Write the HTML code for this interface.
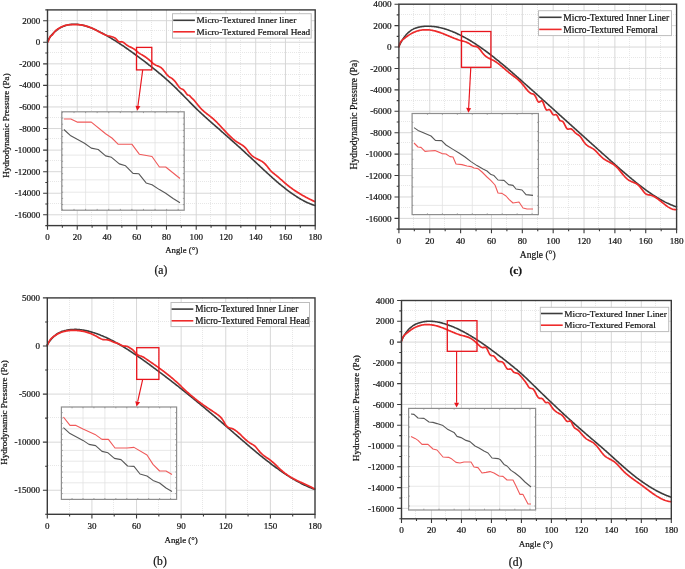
<!DOCTYPE html>
<html><head><meta charset="utf-8"><style>
html,body{margin:0;padding:0;background:#fff;}
body{width:685px;height:569px;overflow:hidden;font-family:"Liberation Serif",serif;}
svg{display:block;} text{fill:#141414;stroke:#141414;stroke-width:0.22px;}
</style></head><body>
<svg width="685" height="569" viewBox="0 0 685 569" font-family="'Liberation Serif', serif" style="will-change:transform;filter:blur(0.3px)">
<rect width="685" height="569" fill="#fff"/>
<line x1="61.50" y1="10" x2="61.50" y2="225.60" stroke="#e7e7e7" stroke-width="1" stroke-dasharray="1,1"/>
<line x1="91.50" y1="10" x2="91.50" y2="225.60" stroke="#e7e7e7" stroke-width="1" stroke-dasharray="1,1"/>
<line x1="121.50" y1="10" x2="121.50" y2="225.60" stroke="#e7e7e7" stroke-width="1" stroke-dasharray="1,1"/>
<line x1="151.50" y1="10" x2="151.50" y2="225.60" stroke="#e7e7e7" stroke-width="1" stroke-dasharray="1,1"/>
<line x1="180.50" y1="10" x2="180.50" y2="225.60" stroke="#e7e7e7" stroke-width="1" stroke-dasharray="1,1"/>
<line x1="210.50" y1="10" x2="210.50" y2="225.60" stroke="#e7e7e7" stroke-width="1" stroke-dasharray="1,1"/>
<line x1="240.50" y1="10" x2="240.50" y2="225.60" stroke="#e7e7e7" stroke-width="1" stroke-dasharray="1,1"/>
<line x1="270.50" y1="10" x2="270.50" y2="225.60" stroke="#e7e7e7" stroke-width="1" stroke-dasharray="1,1"/>
<line x1="299.50" y1="10" x2="299.50" y2="225.60" stroke="#e7e7e7" stroke-width="1" stroke-dasharray="1,1"/>
<line x1="48" y1="203.50" x2="315.20" y2="203.50" stroke="#e7e7e7" stroke-width="1" stroke-dasharray="1,1"/>
<line x1="48" y1="181.50" x2="315.20" y2="181.50" stroke="#e7e7e7" stroke-width="1" stroke-dasharray="1,1"/>
<line x1="48" y1="160.50" x2="315.20" y2="160.50" stroke="#e7e7e7" stroke-width="1" stroke-dasharray="1,1"/>
<line x1="48" y1="138.50" x2="315.20" y2="138.50" stroke="#e7e7e7" stroke-width="1" stroke-dasharray="1,1"/>
<line x1="48" y1="117.50" x2="315.20" y2="117.50" stroke="#e7e7e7" stroke-width="1" stroke-dasharray="1,1"/>
<line x1="48" y1="95.50" x2="315.20" y2="95.50" stroke="#e7e7e7" stroke-width="1" stroke-dasharray="1,1"/>
<line x1="48" y1="74.50" x2="315.20" y2="74.50" stroke="#e7e7e7" stroke-width="1" stroke-dasharray="1,1"/>
<line x1="48" y1="52.50" x2="315.20" y2="52.50" stroke="#e7e7e7" stroke-width="1" stroke-dasharray="1,1"/>
<line x1="48" y1="30.50" x2="315.20" y2="30.50" stroke="#e7e7e7" stroke-width="1" stroke-dasharray="1,1"/>
<line x1="77.24" y1="9.90" x2="77.24" y2="225.60" stroke="#d4d4d4" stroke-width="0.9"/>
<line x1="106.99" y1="9.90" x2="106.99" y2="225.60" stroke="#d4d4d4" stroke-width="0.9"/>
<line x1="136.73" y1="9.90" x2="136.73" y2="225.60" stroke="#d4d4d4" stroke-width="0.9"/>
<line x1="166.48" y1="9.90" x2="166.48" y2="225.60" stroke="#d4d4d4" stroke-width="0.9"/>
<line x1="196.22" y1="9.90" x2="196.22" y2="225.60" stroke="#d4d4d4" stroke-width="0.9"/>
<line x1="225.97" y1="9.90" x2="225.97" y2="225.60" stroke="#d4d4d4" stroke-width="0.9"/>
<line x1="255.71" y1="9.90" x2="255.71" y2="225.60" stroke="#d4d4d4" stroke-width="0.9"/>
<line x1="285.46" y1="9.90" x2="285.46" y2="225.60" stroke="#d4d4d4" stroke-width="0.9"/>
<line x1="47.50" y1="214.81" x2="315.20" y2="214.81" stroke="#d4d4d4" stroke-width="0.9"/>
<line x1="47.50" y1="193.25" x2="315.20" y2="193.25" stroke="#d4d4d4" stroke-width="0.9"/>
<line x1="47.50" y1="171.68" x2="315.20" y2="171.68" stroke="#d4d4d4" stroke-width="0.9"/>
<line x1="47.50" y1="150.11" x2="315.20" y2="150.11" stroke="#d4d4d4" stroke-width="0.9"/>
<line x1="47.50" y1="128.53" x2="315.20" y2="128.53" stroke="#d4d4d4" stroke-width="0.9"/>
<line x1="47.50" y1="106.96" x2="315.20" y2="106.96" stroke="#d4d4d4" stroke-width="0.9"/>
<line x1="47.50" y1="85.40" x2="315.20" y2="85.40" stroke="#d4d4d4" stroke-width="0.9"/>
<line x1="47.50" y1="63.83" x2="315.20" y2="63.83" stroke="#d4d4d4" stroke-width="0.9"/>
<line x1="47.50" y1="42.25" x2="315.20" y2="42.25" stroke="#d4d4d4" stroke-width="0.9"/>
<line x1="47.50" y1="20.69" x2="315.20" y2="20.69" stroke="#d4d4d4" stroke-width="0.9"/>
<path d="M47.50,40.98 C47.67,40.71 48.17,39.89 48.50,39.37 C48.83,38.85 49.17,38.35 49.50,37.87 C49.83,37.40 50.17,36.94 50.50,36.49 C50.83,36.05 51.17,35.63 51.50,35.22 C51.83,34.81 52.17,34.42 52.50,34.04 C52.83,33.67 53.17,33.31 53.50,32.97 C53.83,32.62 54.17,32.29 54.50,31.98 C54.83,31.66 55.17,31.36 55.50,31.08 C55.83,30.79 56.17,30.51 56.50,30.25 C56.83,29.99 57.17,29.74 57.50,29.50 C57.83,29.27 58.17,29.04 58.50,28.82 C58.83,28.61 59.17,28.40 59.50,28.21 C59.83,28.01 60.17,27.83 60.50,27.65 C60.83,27.47 61.17,27.30 61.50,27.14 C61.83,26.98 62.17,26.83 62.50,26.69 C62.83,26.54 63.17,26.40 63.50,26.27 C63.83,26.14 64.17,26.01 64.50,25.89 C64.83,25.78 65.17,25.67 65.50,25.56 C65.83,25.45 66.17,25.36 66.50,25.26 C66.83,25.17 67.17,25.09 67.50,25.01 C67.83,24.93 68.17,24.85 68.50,24.79 C68.83,24.72 69.17,24.66 69.50,24.60 C69.83,24.55 70.17,24.50 70.50,24.46 C70.83,24.41 71.17,24.37 71.50,24.34 C71.83,24.31 72.17,24.28 72.50,24.26 C72.83,24.24 73.17,24.23 73.50,24.22 C73.83,24.21 74.17,24.20 74.50,24.20 C74.83,24.20 75.17,24.21 75.50,24.22 C75.83,24.23 76.17,24.25 76.50,24.27 C76.83,24.29 77.17,24.32 77.50,24.35 C77.83,24.38 78.17,24.41 78.50,24.45 C78.83,24.49 79.17,24.54 79.50,24.59 C79.83,24.63 80.17,24.69 80.50,24.75 C80.83,24.80 81.17,24.87 81.50,24.93 C81.83,25.00 82.17,25.07 82.50,25.14 C82.83,25.22 83.17,25.30 83.50,25.38 C83.83,25.46 84.17,25.55 84.50,25.64 C84.83,25.73 85.17,25.82 85.50,25.92 C85.83,26.02 86.17,26.12 86.50,26.22 C86.83,26.33 87.17,26.44 87.50,26.55 C87.83,26.66 88.17,26.77 88.50,26.89 C88.83,27.01 89.17,27.13 89.50,27.26 C89.83,27.38 90.17,27.51 90.50,27.64 C90.83,27.77 91.17,27.90 91.50,28.03 C91.83,28.17 92.17,28.31 92.50,28.45 C92.83,28.59 93.17,28.73 93.50,28.88 C93.83,29.02 94.17,29.17 94.50,29.32 C94.83,29.47 95.17,29.63 95.50,29.78 C95.83,29.94 96.17,30.09 96.50,30.25 C96.83,30.41 97.17,30.57 97.50,30.74 C97.83,30.90 98.17,31.06 98.50,31.23 C98.83,31.40 99.17,31.56 99.50,31.73 C99.83,31.90 100.17,32.07 100.50,32.25 C100.83,32.42 101.17,32.59 101.50,32.77 C101.83,32.95 102.17,33.12 102.50,33.30 C102.83,33.48 103.17,33.66 103.50,33.84 C103.83,34.02 104.17,34.20 104.50,34.39 C104.83,34.57 105.17,34.76 105.50,34.95 C105.83,35.13 106.17,35.32 106.50,35.51 C106.83,35.70 107.17,35.89 107.50,36.08 C107.83,36.28 108.17,36.47 108.50,36.66 C108.83,36.86 109.17,37.05 109.50,37.25 C109.83,37.45 110.17,37.65 110.50,37.85 C110.83,38.05 111.17,38.25 111.50,38.45 C111.83,38.65 112.17,38.86 112.50,39.06 C112.83,39.27 113.17,39.47 113.50,39.68 C113.83,39.89 114.17,40.09 114.50,40.30 C114.83,40.51 115.17,40.72 115.50,40.93 C115.83,41.15 116.17,41.36 116.50,41.57 C116.83,41.79 117.17,42.00 117.50,42.22 C117.83,42.43 118.17,42.65 118.50,42.87 C118.83,43.08 119.17,43.30 119.50,43.52 C119.83,43.74 120.17,43.96 120.50,44.19 C120.83,44.41 121.17,44.63 121.50,44.85 C121.83,45.08 122.17,45.30 122.50,45.53 C122.83,45.75 123.17,45.98 123.50,46.21 C123.83,46.43 124.17,46.66 124.50,46.89 C124.83,47.12 125.17,47.35 125.50,47.58 C125.83,47.81 126.17,48.04 126.50,48.28 C126.83,48.51 127.17,48.74 127.50,48.98 C127.83,49.21 128.17,49.44 128.50,49.68 C128.83,49.92 129.17,50.15 129.50,50.39 C129.83,50.63 130.17,50.86 130.50,51.10 C130.83,51.34 131.17,51.58 131.50,51.82 C131.83,52.06 132.17,52.30 132.50,52.54 C132.83,52.78 133.17,53.03 133.50,53.27 C133.83,53.51 134.17,53.75 134.50,54.00 C134.83,54.24 135.17,54.49 135.50,54.73 C135.83,54.98 136.17,55.22 136.50,55.47 C136.83,55.71 137.17,55.96 137.50,56.21 C137.83,56.45 138.17,56.70 138.50,56.95 C138.83,57.20 139.17,57.45 139.50,57.70 C139.83,57.95 140.17,58.19 140.50,58.44 C140.83,58.69 141.17,58.95 141.50,59.20 C141.83,59.45 142.17,59.70 142.50,59.95 C142.83,60.20 143.17,60.45 143.50,60.71 C143.83,60.96 144.17,61.21 144.50,61.47 C144.83,61.72 145.17,61.97 145.50,62.23 C145.83,62.48 146.17,62.74 146.50,62.99 C146.83,63.25 147.17,63.51 147.50,63.76 C147.83,64.02 148.17,64.28 148.50,64.54 C148.83,64.79 149.17,65.05 149.50,65.31 C149.83,65.57 150.17,65.83 150.50,66.09 C150.83,66.35 151.17,66.61 151.50,66.88 C151.83,67.14 152.17,67.40 152.50,67.67 C152.83,67.93 153.17,68.20 153.50,68.46 C153.83,68.73 154.17,68.99 154.50,69.26 C154.83,69.53 155.17,69.80 155.50,70.07 C155.83,70.34 156.17,70.61 156.50,70.88 C156.83,71.15 157.17,71.42 157.50,71.69 C157.83,71.97 158.17,72.24 158.50,72.52 C158.83,72.79 159.17,73.07 159.50,73.35 C159.83,73.62 160.17,73.90 160.50,74.18 C160.83,74.46 161.17,74.74 161.50,75.03 C161.83,75.31 162.17,75.59 162.50,75.88 C162.83,76.16 163.17,76.45 163.50,76.73 C163.83,77.02 164.17,77.31 164.50,77.60 C164.83,77.89 165.17,78.18 165.50,78.47 C165.83,78.77 166.17,79.06 166.50,79.35 C166.83,79.65 167.17,79.95 167.50,80.24 C167.83,80.54 168.17,80.84 168.50,81.14 C168.83,81.44 169.17,81.75 169.50,82.05 C169.83,82.35 170.17,82.66 170.50,82.97 C170.83,83.27 171.17,83.58 171.50,83.89 C171.83,84.20 172.17,84.51 172.50,84.83 C172.83,85.14 173.17,85.46 173.50,85.77 C173.83,86.09 174.17,86.41 174.50,86.73 C174.83,87.05 175.17,87.37 175.50,87.69 C175.83,88.02 176.17,88.34 176.50,88.67 C176.83,89.00 177.17,89.32 177.50,89.65 C177.83,89.98 178.17,90.31 178.50,90.65 C178.83,90.98 179.17,91.31 179.50,91.65 C179.83,91.98 180.17,92.31 180.50,92.65 C180.83,92.99 181.17,93.32 181.50,93.66 C181.83,94.00 182.17,94.34 182.50,94.67 C182.83,95.01 183.17,95.35 183.50,95.69 C183.83,96.03 184.17,96.37 184.50,96.71 C184.83,97.05 185.17,97.39 185.50,97.73 C185.83,98.07 186.17,98.41 186.50,98.75 C186.83,99.09 187.17,99.44 187.50,99.78 C187.83,100.12 188.17,100.46 188.50,100.80 C188.83,101.14 189.17,101.48 189.50,101.81 C189.83,102.15 190.17,102.49 190.50,102.83 C190.83,103.17 191.17,103.50 191.50,103.84 C191.83,104.18 192.17,104.51 192.50,104.85 C192.83,105.18 193.17,105.52 193.50,105.85 C193.83,106.18 194.17,106.51 194.50,106.84 C194.83,107.17 195.17,107.50 195.50,107.83 C195.83,108.16 196.17,108.48 196.50,108.81 C196.83,109.13 197.17,109.45 197.50,109.78 C197.83,110.10 198.17,110.42 198.50,110.73 C198.83,111.05 199.17,111.37 199.50,111.68 C199.83,112.00 200.17,112.31 200.50,112.62 C200.83,112.94 201.17,113.25 201.50,113.56 C201.83,113.87 202.17,114.17 202.50,114.48 C202.83,114.79 203.17,115.09 203.50,115.40 C203.83,115.70 204.17,116.01 204.50,116.31 C204.83,116.61 205.17,116.92 205.50,117.22 C205.83,117.52 206.17,117.82 206.50,118.12 C206.83,118.41 207.17,118.71 207.50,119.01 C207.83,119.31 208.17,119.61 208.50,119.90 C208.83,120.20 209.17,120.49 209.50,120.79 C209.83,121.08 210.17,121.38 210.50,121.67 C210.83,121.97 211.17,122.26 211.50,122.55 C211.83,122.85 212.17,123.14 212.50,123.43 C212.83,123.73 213.17,124.02 213.50,124.31 C213.83,124.60 214.17,124.90 214.50,125.19 C214.83,125.48 215.17,125.77 215.50,126.06 C215.83,126.36 216.17,126.65 216.50,126.94 C216.83,127.23 217.17,127.53 217.50,127.82 C217.83,128.11 218.17,128.40 218.50,128.70 C218.83,128.99 219.17,129.28 219.50,129.58 C219.83,129.87 220.17,130.16 220.50,130.45 C220.83,130.75 221.17,131.04 221.50,131.33 C221.83,131.63 222.17,131.92 222.50,132.22 C222.83,132.51 223.17,132.80 223.50,133.10 C223.83,133.39 224.17,133.69 224.50,133.98 C224.83,134.27 225.17,134.57 225.50,134.86 C225.83,135.16 226.17,135.45 226.50,135.75 C226.83,136.04 227.17,136.34 227.50,136.63 C227.83,136.93 228.17,137.22 228.50,137.52 C228.83,137.82 229.17,138.11 229.50,138.41 C229.83,138.70 230.17,139.00 230.50,139.30 C230.83,139.59 231.17,139.89 231.50,140.19 C231.83,140.49 232.17,140.78 232.50,141.08 C232.83,141.38 233.17,141.68 233.50,141.97 C233.83,142.27 234.17,142.57 234.50,142.87 C234.83,143.17 235.17,143.47 235.50,143.77 C235.83,144.07 236.17,144.36 236.50,144.66 C236.83,144.96 237.17,145.26 237.50,145.56 C237.83,145.86 238.17,146.17 238.50,146.47 C238.83,146.77 239.17,147.07 239.50,147.37 C239.83,147.67 240.17,147.97 240.50,148.28 C240.83,148.58 241.17,148.88 241.50,149.18 C241.83,149.49 242.17,149.79 242.50,150.09 C242.83,150.40 243.17,150.70 243.50,151.00 C243.83,151.31 244.17,151.61 244.50,151.92 C244.83,152.22 245.17,152.53 245.50,152.83 C245.83,153.14 246.17,153.45 246.50,153.75 C246.83,154.06 247.17,154.37 247.50,154.67 C247.83,154.98 248.17,155.29 248.50,155.60 C248.83,155.91 249.17,156.21 249.50,156.52 C249.83,156.83 250.17,157.14 250.50,157.45 C250.83,157.76 251.17,158.07 251.50,158.38 C251.83,158.69 252.17,159.00 252.50,159.31 C252.83,159.62 253.17,159.94 253.50,160.25 C253.83,160.56 254.17,160.87 254.50,161.18 C254.83,161.49 255.17,161.81 255.50,162.12 C255.83,162.43 256.17,162.74 256.50,163.06 C256.83,163.37 257.17,163.68 257.50,163.99 C257.83,164.30 258.17,164.62 258.50,164.93 C258.83,165.24 259.17,165.55 259.50,165.86 C259.83,166.18 260.17,166.49 260.50,166.80 C260.83,167.11 261.17,167.42 261.50,167.73 C261.83,168.04 262.17,168.35 262.50,168.66 C262.83,168.98 263.17,169.28 263.50,169.59 C263.83,169.90 264.17,170.21 264.50,170.52 C264.83,170.83 265.17,171.14 265.50,171.45 C265.83,171.75 266.17,172.06 266.50,172.37 C266.83,172.67 267.17,172.98 267.50,173.28 C267.83,173.59 268.17,173.89 268.50,174.20 C268.83,174.50 269.17,174.80 269.50,175.11 C269.83,175.41 270.17,175.71 270.50,176.01 C270.83,176.31 271.17,176.61 271.50,176.91 C271.83,177.21 272.17,177.50 272.50,177.80 C272.83,178.10 273.17,178.39 273.50,178.69 C273.83,178.98 274.17,179.28 274.50,179.57 C274.83,179.86 275.17,180.15 275.50,180.44 C275.83,180.73 276.17,181.02 276.50,181.31 C276.83,181.60 277.17,181.89 277.50,182.17 C277.83,182.46 278.17,182.74 278.50,183.02 C278.83,183.31 279.17,183.59 279.50,183.87 C279.83,184.15 280.17,184.43 280.50,184.70 C280.83,184.98 281.17,185.26 281.50,185.53 C281.83,185.80 282.17,186.08 282.50,186.35 C282.83,186.62 283.17,186.89 283.50,187.15 C283.83,187.42 284.17,187.69 284.50,187.95 C284.83,188.22 285.17,188.48 285.50,188.74 C285.83,189.00 286.17,189.26 286.50,189.52 C286.83,189.77 287.17,190.03 287.50,190.28 C287.83,190.53 288.17,190.78 288.50,191.03 C288.83,191.28 289.17,191.53 289.50,191.78 C289.83,192.02 290.17,192.26 290.50,192.50 C290.83,192.75 291.17,192.98 291.50,193.22 C291.83,193.46 292.17,193.69 292.50,193.92 C292.83,194.16 293.17,194.39 293.50,194.61 C293.83,194.84 294.17,195.07 294.50,195.29 C294.83,195.51 295.17,195.74 295.50,195.95 C295.83,196.17 296.17,196.39 296.50,196.60 C296.83,196.81 297.17,197.03 297.50,197.23 C297.83,197.44 298.17,197.65 298.50,197.85 C298.83,198.05 299.17,198.25 299.50,198.45 C299.83,198.65 300.17,198.85 300.50,199.04 C300.83,199.23 301.17,199.42 301.50,199.61 C301.83,199.79 302.17,199.98 302.50,200.16 C302.83,200.34 303.17,200.52 303.50,200.69 C303.83,200.87 304.17,201.04 304.50,201.21 C304.83,201.38 305.17,201.55 305.50,201.71 C305.83,201.87 306.17,202.03 306.50,202.19 C306.83,202.35 307.17,202.50 307.50,202.65 C307.83,202.81 308.17,202.95 308.50,203.10 C308.83,203.24 309.17,203.38 309.50,203.52 C309.83,203.66 310.17,203.79 310.50,203.93 C310.83,204.06 311.17,204.18 311.50,204.31 C311.83,204.43 312.17,204.56 312.50,204.67 C312.83,204.79 313.17,204.90 313.50,205.01 C313.83,205.13 314.25,205.26 314.50,205.34 C314.75,205.41 314.92,205.46 315.00,205.49" fill="none" stroke="#3c3c3c" stroke-width="1.6" stroke-linejoin="round" stroke-linecap="round"/>
<path d="M47.90,41.98 L48.70,40.26 L49.50,38.01 L50.30,36.24 L51.10,35.58 L51.90,35.30 L52.70,34.49 L53.50,33.28 L54.30,32.15 L55.10,31.25 L55.90,30.51 L56.70,29.84 L57.50,29.23 L58.30,28.66 L59.10,28.15 L59.90,27.67 L60.70,27.24 L61.50,26.85 L62.30,26.50 L63.10,26.19 L63.90,25.91 L64.70,25.66 L65.50,25.44 L66.30,25.25 L67.10,25.09 L67.90,24.96 L68.70,24.84 L69.50,24.75 L70.30,24.68 L71.10,24.62 L71.90,24.58 L72.70,24.55 L73.50,24.53 L74.30,24.52 L75.10,24.53 L75.90,24.55 L76.70,24.58 L77.50,24.63 L78.30,24.68 L79.10,24.76 L79.90,24.84 L80.70,24.95 L81.50,25.06 L82.30,25.20 L83.10,25.35 L83.90,25.51 L84.70,25.69 L85.50,25.89 L86.30,26.10 L87.10,26.34 L87.90,26.59 L88.70,26.86 L89.50,27.14 L90.30,27.45 L91.10,27.77 L91.90,28.12 L92.70,28.48 L93.50,28.86 L94.30,29.26 L95.10,29.68 L95.90,30.10 L96.70,30.53 L97.50,30.97 L98.30,31.41 L99.10,31.84 L99.90,32.28 L100.70,32.70 L101.50,33.12 L102.30,33.53 L103.10,33.92 L103.90,34.29 L104.70,34.64 L105.50,34.97 L106.30,35.28 L107.10,35.55 L107.90,35.79 L108.70,36.01 L109.50,36.20 L110.30,36.38 L111.10,36.58 L111.90,36.79 L112.70,37.03 L113.50,37.32 L114.30,37.67 L115.10,38.10 L115.90,38.74 L116.70,39.65 L117.50,40.62 L118.30,41.38 L119.10,41.76 L119.90,41.85 L120.70,41.82 L121.50,41.80 L122.30,41.94 L123.10,42.29 L123.90,42.79 L124.70,43.40 L125.50,44.06 L126.30,44.71 L127.10,45.30 L127.90,45.80 L128.70,46.24 L129.50,46.64 L130.30,47.00 L131.10,47.37 L131.90,47.75 L132.70,48.16 L133.50,48.63 L134.30,49.18 L135.10,49.79 L135.90,50.45 L136.70,51.13 L137.50,51.81 L138.30,52.48 L139.10,53.09 L139.90,53.65 L140.70,54.13 L141.50,54.57 L142.30,55.00 L143.10,55.46 L143.90,55.94 L144.70,56.46 L145.50,57.01 L146.30,57.59 L147.10,58.20 L147.90,58.84 L148.70,59.51 L149.50,60.21 L150.30,60.94 L151.10,61.68 L151.90,62.41 L152.70,63.12 L153.50,63.77 L154.30,64.34 L155.10,64.82 L155.90,65.21 L156.70,65.55 L157.50,65.85 L158.30,66.16 L159.10,66.50 L159.90,66.90 L160.70,67.39 L161.50,68.00 L162.30,68.76 L163.10,69.67 L163.90,70.68 L164.70,71.76 L165.50,72.84 L166.30,73.89 L167.10,74.87 L167.90,75.71 L168.70,76.39 L169.50,76.93 L170.30,77.40 L171.10,77.87 L171.90,78.40 L172.70,79.03 L173.50,79.77 L174.30,80.61 L175.10,81.55 L175.90,82.57 L176.70,83.67 L177.50,84.85 L178.30,86.05 L179.10,87.11 L179.90,87.88 L180.70,88.41 L181.50,88.80 L182.30,89.16 L183.10,89.61 L183.90,90.26 L184.70,91.20 L185.50,92.33 L186.30,93.47 L187.10,94.45 L187.90,95.07 L188.70,95.24 L189.50,95.58 L190.30,96.36 L191.10,97.29 L191.90,98.12 L192.70,98.86 L193.50,99.62 L194.30,100.51 L195.10,101.46 L195.90,102.45 L196.70,103.45 L197.50,104.45 L198.30,105.44 L199.10,106.40 L199.90,107.34 L200.70,108.23 L201.50,109.07 L202.30,109.86 L203.10,110.61 L203.90,111.33 L204.70,112.02 L205.50,112.68 L206.30,113.33 L207.10,113.96 L207.90,114.58 L208.70,115.20 L209.50,115.82 L210.30,116.44 L211.10,117.08 L211.90,117.74 L212.70,118.42 L213.50,119.12 L214.30,119.86 L215.10,120.61 L215.90,121.39 L216.70,122.18 L217.50,123.00 L218.30,123.82 L219.10,124.66 L219.90,125.51 L220.70,126.37 L221.50,127.23 L222.30,128.10 L223.10,128.97 L223.90,129.83 L224.70,130.70 L225.50,131.56 L226.30,132.41 L227.10,133.25 L227.90,134.08 L228.70,134.89 L229.50,135.69 L230.30,136.47 L231.10,137.23 L231.90,137.96 L232.70,138.67 L233.50,139.35 L234.30,140.00 L235.10,140.62 L235.90,141.21 L236.70,141.76 L237.50,142.27 L238.30,142.75 L239.10,143.22 L239.90,143.68 L240.70,144.15 L241.50,144.64 L242.30,145.17 L243.10,145.74 L243.90,146.38 L244.70,147.09 L245.50,147.89 L246.30,148.78 L247.10,149.79 L247.90,150.88 L248.70,151.98 L249.50,153.01 L250.30,153.95 L251.10,154.78 L251.90,155.53 L252.70,156.20 L253.50,156.81 L254.30,157.35 L255.10,157.84 L255.90,158.30 L256.70,158.72 L257.50,159.12 L258.30,159.51 L259.10,159.89 L259.90,160.28 L260.70,160.69 L261.50,161.13 L262.30,161.62 L263.10,162.18 L263.90,162.81 L264.70,163.55 L265.50,164.40 L266.30,165.33 L267.10,166.33 L267.90,167.35 L268.70,168.36 L269.50,169.33 L270.30,170.23 L271.10,171.07 L271.90,171.84 L272.70,172.57 L273.50,173.25 L274.30,173.91 L275.10,174.55 L275.90,175.19 L276.70,175.83 L277.50,176.49 L278.30,177.16 L279.10,177.86 L279.90,178.56 L280.70,179.27 L281.50,179.99 L282.30,180.71 L283.10,181.42 L283.90,182.13 L284.70,182.82 L285.50,183.51 L286.30,184.17 L287.10,184.83 L287.90,185.47 L288.70,186.10 L289.50,186.72 L290.30,187.32 L291.10,187.92 L291.90,188.50 L292.70,189.07 L293.50,189.64 L294.30,190.19 L295.10,190.73 L295.90,191.26 L296.70,191.78 L297.50,192.29 L298.30,192.79 L299.10,193.29 L299.90,193.77 L300.70,194.25 L301.50,194.72 L302.30,195.18 L303.10,195.64 L303.90,196.08 L304.70,196.52 L305.50,196.96 L306.30,197.39 L307.10,197.81 L307.90,198.23 L308.70,198.64 L309.50,199.04 L310.30,199.45 L311.10,199.84 L311.90,200.24 L312.70,200.62 L313.50,201.01 L314.30,201.39 L314.60,201.53" fill="none" stroke="#ee2b2b" stroke-width="1.7" stroke-linejoin="round" stroke-linecap="round"/>
<rect x="136.50" y="47.40" width="15.30" height="22.50" fill="none" stroke="#e8141c" stroke-width="1.3"/>
<line x1="142.70" y1="69.90" x2="137.93" y2="106.04" stroke="#e8141c" stroke-width="1.15"/>
<path d="M137.30,110.80 L135.45,105.71 L140.41,106.37 Z" fill="#e8141c"/>
<rect x="61.80" y="111.80" width="122.40" height="98.40" fill="#fff"/>
<line x1="85.60" y1="111.80" x2="85.60" y2="210.20" stroke="#e2e2e2" stroke-width="0.8"/>
<line x1="108.75" y1="111.80" x2="108.75" y2="210.20" stroke="#e2e2e2" stroke-width="0.8"/>
<line x1="131.90" y1="111.80" x2="131.90" y2="210.20" stroke="#e2e2e2" stroke-width="0.8"/>
<line x1="155.05" y1="111.80" x2="155.05" y2="210.20" stroke="#e2e2e2" stroke-width="0.8"/>
<line x1="178.20" y1="111.80" x2="178.20" y2="210.20" stroke="#e2e2e2" stroke-width="0.8"/>
<line x1="61.80" y1="118.00" x2="184.20" y2="118.00" stroke="#e2e2e2" stroke-width="0.8"/>
<line x1="61.80" y1="130.37" x2="184.20" y2="130.37" stroke="#e2e2e2" stroke-width="0.8"/>
<line x1="61.80" y1="142.74" x2="184.20" y2="142.74" stroke="#e2e2e2" stroke-width="0.8"/>
<line x1="61.80" y1="155.11" x2="184.20" y2="155.11" stroke="#e2e2e2" stroke-width="0.8"/>
<line x1="61.80" y1="167.48" x2="184.20" y2="167.48" stroke="#e2e2e2" stroke-width="0.8"/>
<line x1="61.80" y1="179.85" x2="184.20" y2="179.85" stroke="#e2e2e2" stroke-width="0.8"/>
<line x1="61.80" y1="192.22" x2="184.20" y2="192.22" stroke="#e2e2e2" stroke-width="0.8"/>
<line x1="61.80" y1="204.59" x2="184.20" y2="204.59" stroke="#e2e2e2" stroke-width="0.8"/>
<path d="M63.90,129.50 L70.80,135.80 L84.50,143.20 L91.30,148.10 L98.20,149.50 L105.60,155.90 L111.50,157.30 L119.30,163.90 L125.60,165.80 L133.00,173.40 L138.90,173.80 L146.10,182.90 L152.00,184.80 L159.40,189.60 L165.70,193.20 L173.10,198.50 L180.00,202.70" fill="none" stroke="#585858" stroke-width="1.1" stroke-linejoin="round"/>
<path d="M63.90,119.00 L70.80,119.00 L77.10,122.10 L91.30,122.10 L105.60,133.70 L111.90,138.00 L118.30,144.30 L132.00,144.30 L139.30,154.20 L152.00,156.50 L159.40,167.00 L165.70,167.00 L180.00,178.50" fill="none" stroke="#f05a5a" stroke-width="1.1" stroke-linejoin="round"/>
<path d="M62.45,111.80 v1.3 M62.45,210.20 v-1.3 M74.02,111.80 v1.3 M74.02,210.20 v-1.3 M85.60,111.80 v1.3 M85.60,210.20 v-1.3 M97.17,111.80 v1.3 M97.17,210.20 v-1.3 M108.75,111.80 v1.3 M108.75,210.20 v-1.3 M120.33,111.80 v1.3 M120.33,210.20 v-1.3 M131.90,111.80 v1.3 M131.90,210.20 v-1.3 M143.48,111.80 v1.3 M143.48,210.20 v-1.3 M155.05,111.80 v1.3 M155.05,210.20 v-1.3 M166.62,111.80 v1.3 M166.62,210.20 v-1.3 M178.20,111.80 v1.3 M178.20,210.20 v-1.3 M61.80,118.00 h1.3 M184.20,118.00 h-1.3 M61.80,124.19 h1.3 M184.20,124.19 h-1.3 M61.80,130.37 h1.3 M184.20,130.37 h-1.3 M61.80,136.56 h1.3 M184.20,136.56 h-1.3 M61.80,142.74 h1.3 M184.20,142.74 h-1.3 M61.80,148.93 h1.3 M184.20,148.93 h-1.3 M61.80,155.11 h1.3 M184.20,155.11 h-1.3 M61.80,161.30 h1.3 M184.20,161.30 h-1.3 M61.80,167.48 h1.3 M184.20,167.48 h-1.3 M61.80,173.67 h1.3 M184.20,173.67 h-1.3 M61.80,179.85 h1.3 M184.20,179.85 h-1.3 M61.80,186.04 h1.3 M184.20,186.04 h-1.3 M61.80,192.22 h1.3 M184.20,192.22 h-1.3 M61.80,198.41 h1.3 M184.20,198.41 h-1.3 M61.80,204.59 h1.3 M184.20,204.59 h-1.3" stroke="#777" stroke-width="0.7" fill="none"/>
<rect x="61.80" y="111.80" width="122.40" height="98.40" fill="none" stroke="#8e8e8e" stroke-width="1.2"/>
<rect x="172.50" y="13.70" width="138.70" height="24.40" fill="#fff" stroke="#bdbdbd" stroke-width="1"/>
<line x1="173.20" y1="20.30" x2="194.90" y2="20.30" stroke="#3c3c3c" stroke-width="1.6"/>
<line x1="173.20" y1="31.80" x2="194.90" y2="31.80" stroke="#ee2b2b" stroke-width="1.6"/>
<text x="196.60" y="23.20" font-size="9.28" fill="#222">Micro-Textured Inner liner</text>
<text x="196.60" y="34.70" font-size="9.28" fill="#222">Micro-Textured Femoral Head</text>
<rect x="47.50" y="9.90" width="267.70" height="215.70" fill="none" stroke="#3a3a3a" stroke-width="1.4"/>
<path d="M47.50,225.60 v4.2 M77.24,225.60 v4.2 M106.99,225.60 v4.2 M136.73,225.60 v4.2 M166.48,225.60 v4.2 M196.22,225.60 v4.2 M225.97,225.60 v4.2 M255.71,225.60 v4.2 M285.46,225.60 v4.2 M315.20,225.60 v4.2 M62.37,225.60 v2.2 M92.12,225.60 v2.2 M121.86,225.60 v2.2 M151.61,225.60 v2.2 M181.35,225.60 v2.2 M211.09,225.60 v2.2 M240.84,225.60 v2.2 M270.58,225.60 v2.2 M300.33,225.60 v2.2 M47.50,214.81 h-4.4 M47.50,193.25 h-4.4 M47.50,171.68 h-4.4 M47.50,150.11 h-4.4 M47.50,128.53 h-4.4 M47.50,106.96 h-4.4 M47.50,85.40 h-4.4 M47.50,63.83 h-4.4 M47.50,42.25 h-4.4 M47.50,20.69 h-4.4 M47.50,204.03 h-2.2 M47.50,182.46 h-2.2 M47.50,160.89 h-2.2 M47.50,139.32 h-2.2 M47.50,117.75 h-2.2 M47.50,96.18 h-2.2 M47.50,74.61 h-2.2 M47.50,53.04 h-2.2 M47.50,31.47 h-2.2 M47.50,225.60 h-2.2 M47.50,9.90 h-2.2" stroke="#3a3a3a" stroke-width="1.1" fill="none"/>
<text x="47.50" y="239.60" font-size="9.0" text-anchor="middle" fill="#222">0</text>
<text x="77.24" y="239.60" font-size="9.0" text-anchor="middle" fill="#222">20</text>
<text x="106.99" y="239.60" font-size="9.0" text-anchor="middle" fill="#222">40</text>
<text x="136.73" y="239.60" font-size="9.0" text-anchor="middle" fill="#222">60</text>
<text x="166.48" y="239.60" font-size="9.0" text-anchor="middle" fill="#222">80</text>
<text x="196.22" y="239.60" font-size="9.0" text-anchor="middle" fill="#222">100</text>
<text x="225.97" y="239.60" font-size="9.0" text-anchor="middle" fill="#222">120</text>
<text x="255.71" y="239.60" font-size="9.0" text-anchor="middle" fill="#222">140</text>
<text x="285.46" y="239.60" font-size="9.0" text-anchor="middle" fill="#222">160</text>
<text x="315.20" y="239.60" font-size="9.0" text-anchor="middle" fill="#222">180</text>
<text x="40.30" y="23.73" font-size="9.0" text-anchor="end" fill="#222">2000</text>
<text x="40.30" y="45.30" font-size="9.0" text-anchor="end" fill="#222">0</text>
<text x="40.30" y="66.87" font-size="9.0" text-anchor="end" fill="#222">-2000</text>
<text x="40.30" y="88.44" font-size="9.0" text-anchor="end" fill="#222">-4000</text>
<text x="40.30" y="110.01" font-size="9.0" text-anchor="end" fill="#222">-6000</text>
<text x="40.30" y="131.58" font-size="9.0" text-anchor="end" fill="#222">-8000</text>
<text x="40.30" y="153.15" font-size="9.0" text-anchor="end" fill="#222">-10000</text>
<text x="40.30" y="174.72" font-size="9.0" text-anchor="end" fill="#222">-12000</text>
<text x="40.30" y="196.29" font-size="9.0" text-anchor="end" fill="#222">-14000</text>
<text x="40.30" y="217.86" font-size="9.0" text-anchor="end" fill="#222">-16000</text>
<text transform="translate(9.00,125.60) rotate(-90)" font-size="9.05" text-anchor="middle" fill="#222">Hydrodynamic Pressure (Pa)</text>
<text x="181.70" y="253.00" font-size="8.75" text-anchor="middle" fill="#222">Angle (°)</text>
<text x="160.95" y="273.70" font-size="11.6" text-anchor="middle" fill="#1a1a1a">(a)</text>
<line x1="69.50" y1="298" x2="69.50" y2="514.30" stroke="#e7e7e7" stroke-width="1" stroke-dasharray="1,1"/>
<line x1="113.50" y1="298" x2="113.50" y2="514.30" stroke="#e7e7e7" stroke-width="1" stroke-dasharray="1,1"/>
<line x1="158.50" y1="298" x2="158.50" y2="514.30" stroke="#e7e7e7" stroke-width="1" stroke-dasharray="1,1"/>
<line x1="202.50" y1="298" x2="202.50" y2="514.30" stroke="#e7e7e7" stroke-width="1" stroke-dasharray="1,1"/>
<line x1="247.50" y1="298" x2="247.50" y2="514.30" stroke="#e7e7e7" stroke-width="1" stroke-dasharray="1,1"/>
<line x1="292.50" y1="298" x2="292.50" y2="514.30" stroke="#e7e7e7" stroke-width="1" stroke-dasharray="1,1"/>
<line x1="48" y1="465.50" x2="315.00" y2="465.50" stroke="#e7e7e7" stroke-width="1" stroke-dasharray="1,1"/>
<line x1="48" y1="417.50" x2="315.00" y2="417.50" stroke="#e7e7e7" stroke-width="1" stroke-dasharray="1,1"/>
<line x1="48" y1="369.50" x2="315.00" y2="369.50" stroke="#e7e7e7" stroke-width="1" stroke-dasharray="1,1"/>
<line x1="48" y1="321.50" x2="315.00" y2="321.50" stroke="#e7e7e7" stroke-width="1" stroke-dasharray="1,1"/>
<line x1="91.92" y1="297.90" x2="91.92" y2="514.30" stroke="#d4d4d4" stroke-width="0.9"/>
<line x1="136.53" y1="297.90" x2="136.53" y2="514.30" stroke="#d4d4d4" stroke-width="0.9"/>
<line x1="181.15" y1="297.90" x2="181.15" y2="514.30" stroke="#d4d4d4" stroke-width="0.9"/>
<line x1="225.77" y1="297.90" x2="225.77" y2="514.30" stroke="#d4d4d4" stroke-width="0.9"/>
<line x1="270.38" y1="297.90" x2="270.38" y2="514.30" stroke="#d4d4d4" stroke-width="0.9"/>
<line x1="47.30" y1="490.26" x2="315.00" y2="490.26" stroke="#d4d4d4" stroke-width="0.9"/>
<line x1="47.30" y1="442.17" x2="315.00" y2="442.17" stroke="#d4d4d4" stroke-width="0.9"/>
<line x1="47.30" y1="394.08" x2="315.00" y2="394.08" stroke="#d4d4d4" stroke-width="0.9"/>
<line x1="47.30" y1="345.99" x2="315.00" y2="345.99" stroke="#d4d4d4" stroke-width="0.9"/>
<path d="M47.20,344.95 C47.37,344.69 47.87,343.87 48.20,343.35 C48.53,342.84 48.87,342.35 49.20,341.88 C49.53,341.40 49.87,340.95 50.20,340.52 C50.53,340.08 50.87,339.66 51.20,339.26 C51.53,338.86 51.87,338.48 52.20,338.12 C52.53,337.75 52.87,337.40 53.20,337.07 C53.53,336.74 53.87,336.42 54.20,336.12 C54.53,335.82 54.87,335.53 55.20,335.26 C55.53,334.98 55.87,334.72 56.20,334.48 C56.53,334.23 56.87,334.00 57.20,333.78 C57.53,333.56 57.87,333.35 58.20,333.15 C58.53,332.96 58.87,332.77 59.20,332.60 C59.53,332.43 59.87,332.26 60.20,332.11 C60.53,331.96 60.87,331.81 61.20,331.68 C61.53,331.54 61.87,331.42 62.20,331.30 C62.53,331.18 62.87,331.07 63.20,330.97 C63.53,330.87 63.87,330.77 64.20,330.69 C64.53,330.60 64.87,330.52 65.20,330.44 C65.53,330.36 65.87,330.29 66.20,330.23 C66.53,330.16 66.87,330.10 67.20,330.04 C67.53,329.99 67.87,329.93 68.20,329.88 C68.53,329.84 68.87,329.79 69.20,329.75 C69.53,329.71 69.87,329.67 70.20,329.64 C70.53,329.60 70.87,329.57 71.20,329.55 C71.53,329.52 71.87,329.50 72.20,329.48 C72.53,329.46 72.87,329.44 73.20,329.43 C73.53,329.42 73.87,329.41 74.20,329.41 C74.53,329.40 74.87,329.40 75.20,329.41 C75.53,329.41 75.87,329.41 76.20,329.42 C76.53,329.43 76.87,329.44 77.20,329.46 C77.53,329.48 77.87,329.50 78.20,329.52 C78.53,329.54 78.87,329.57 79.20,329.60 C79.53,329.62 79.87,329.66 80.20,329.69 C80.53,329.73 80.87,329.77 81.20,329.81 C81.53,329.85 81.87,329.89 82.20,329.94 C82.53,329.99 82.87,330.04 83.20,330.09 C83.53,330.14 83.87,330.20 84.20,330.26 C84.53,330.32 84.87,330.38 85.20,330.44 C85.53,330.51 85.87,330.58 86.20,330.65 C86.53,330.72 86.87,330.79 87.20,330.86 C87.53,330.94 87.87,331.02 88.20,331.10 C88.53,331.18 88.87,331.26 89.20,331.35 C89.53,331.43 89.87,331.52 90.20,331.61 C90.53,331.70 90.87,331.79 91.20,331.89 C91.53,331.98 91.87,332.08 92.20,332.18 C92.53,332.28 92.87,332.38 93.20,332.49 C93.53,332.59 93.87,332.70 94.20,332.81 C94.53,332.92 94.87,333.03 95.20,333.14 C95.53,333.25 95.87,333.37 96.20,333.48 C96.53,333.60 96.87,333.72 97.20,333.84 C97.53,333.96 97.87,334.09 98.20,334.21 C98.53,334.33 98.87,334.46 99.20,334.59 C99.53,334.72 99.87,334.85 100.20,334.98 C100.53,335.11 100.87,335.25 101.20,335.39 C101.53,335.52 101.87,335.66 102.20,335.80 C102.53,335.94 102.87,336.08 103.20,336.22 C103.53,336.37 103.87,336.51 104.20,336.66 C104.53,336.81 104.87,336.96 105.20,337.11 C105.53,337.26 105.87,337.41 106.20,337.56 C106.53,337.72 106.87,337.87 107.20,338.03 C107.53,338.19 107.87,338.35 108.20,338.51 C108.53,338.67 108.87,338.83 109.20,338.99 C109.53,339.16 109.87,339.32 110.20,339.49 C110.53,339.66 110.87,339.82 111.20,340.00 C111.53,340.17 111.87,340.34 112.20,340.51 C112.53,340.68 112.87,340.86 113.20,341.03 C113.53,341.21 113.87,341.39 114.20,341.57 C114.53,341.75 114.87,341.93 115.20,342.11 C115.53,342.29 115.87,342.47 116.20,342.66 C116.53,342.84 116.87,343.03 117.20,343.22 C117.53,343.40 117.87,343.59 118.20,343.78 C118.53,343.97 118.87,344.16 119.20,344.36 C119.53,344.55 119.87,344.74 120.20,344.94 C120.53,345.13 120.87,345.33 121.20,345.53 C121.53,345.73 121.87,345.93 122.20,346.13 C122.53,346.33 122.87,346.53 123.20,346.73 C123.53,346.93 123.87,347.14 124.20,347.34 C124.53,347.55 124.87,347.75 125.20,347.96 C125.53,348.17 125.87,348.38 126.20,348.59 C126.53,348.80 126.87,349.01 127.20,349.22 C127.53,349.43 127.87,349.64 128.20,349.86 C128.53,350.07 128.87,350.28 129.20,350.50 C129.53,350.72 129.87,350.93 130.20,351.15 C130.53,351.37 130.87,351.59 131.20,351.81 C131.53,352.03 131.87,352.25 132.20,352.47 C132.53,352.69 132.87,352.91 133.20,353.13 C133.53,353.36 133.87,353.58 134.20,353.81 C134.53,354.03 134.87,354.26 135.20,354.48 C135.53,354.71 135.87,354.94 136.20,355.17 C136.53,355.39 136.87,355.62 137.20,355.85 C137.53,356.08 137.87,356.31 138.20,356.54 C138.53,356.78 138.87,357.01 139.20,357.24 C139.53,357.47 139.87,357.71 140.20,357.94 C140.53,358.17 140.87,358.41 141.20,358.64 C141.53,358.88 141.87,359.12 142.20,359.35 C142.53,359.59 142.87,359.83 143.20,360.06 C143.53,360.30 143.87,360.54 144.20,360.78 C144.53,361.02 144.87,361.26 145.20,361.50 C145.53,361.74 145.87,361.98 146.20,362.22 C146.53,362.46 146.87,362.70 147.20,362.94 C147.53,363.18 147.87,363.43 148.20,363.67 C148.53,363.91 148.87,364.15 149.20,364.40 C149.53,364.64 149.87,364.89 150.20,365.13 C150.53,365.37 150.87,365.62 151.20,365.86 C151.53,366.11 151.87,366.35 152.20,366.60 C152.53,366.85 152.87,367.09 153.20,367.34 C153.53,367.58 153.87,367.83 154.20,368.08 C154.53,368.33 154.87,368.57 155.20,368.82 C155.53,369.07 155.87,369.32 156.20,369.57 C156.53,369.81 156.87,370.06 157.20,370.31 C157.53,370.56 157.87,370.81 158.20,371.06 C158.53,371.31 158.87,371.56 159.20,371.81 C159.53,372.06 159.87,372.31 160.20,372.57 C160.53,372.82 160.87,373.07 161.20,373.32 C161.53,373.57 161.87,373.83 162.20,374.08 C162.53,374.33 162.87,374.58 163.20,374.84 C163.53,375.09 163.87,375.35 164.20,375.60 C164.53,375.85 164.87,376.11 165.20,376.36 C165.53,376.62 165.87,376.87 166.20,377.13 C166.53,377.38 166.87,377.64 167.20,377.90 C167.53,378.15 167.87,378.41 168.20,378.67 C168.53,378.92 168.87,379.18 169.20,379.44 C169.53,379.69 169.87,379.95 170.20,380.21 C170.53,380.47 170.87,380.73 171.20,380.99 C171.53,381.25 171.87,381.50 172.20,381.76 C172.53,382.02 172.87,382.28 173.20,382.54 C173.53,382.80 173.87,383.06 174.20,383.32 C174.53,383.58 174.87,383.85 175.20,384.11 C175.53,384.37 175.87,384.63 176.20,384.89 C176.53,385.15 176.87,385.42 177.20,385.68 C177.53,385.94 177.87,386.20 178.20,386.47 C178.53,386.73 178.87,386.99 179.20,387.26 C179.53,387.52 179.87,387.79 180.20,388.05 C180.53,388.32 180.87,388.58 181.20,388.85 C181.53,389.11 181.87,389.38 182.20,389.64 C182.53,389.91 182.87,390.17 183.20,390.44 C183.53,390.71 183.87,390.97 184.20,391.24 C184.53,391.51 184.87,391.77 185.20,392.04 C185.53,392.31 185.87,392.58 186.20,392.84 C186.53,393.11 186.87,393.38 187.20,393.65 C187.53,393.92 187.87,394.19 188.20,394.46 C188.53,394.73 188.87,395.00 189.20,395.27 C189.53,395.54 189.87,395.81 190.20,396.08 C190.53,396.35 190.87,396.62 191.20,396.89 C191.53,397.16 191.87,397.43 192.20,397.70 C192.53,397.97 192.87,398.24 193.20,398.52 C193.53,398.79 193.87,399.06 194.20,399.33 C194.53,399.61 194.87,399.88 195.20,400.15 C195.53,400.43 195.87,400.70 196.20,400.97 C196.53,401.25 196.87,401.52 197.20,401.80 C197.53,402.07 197.87,402.34 198.20,402.62 C198.53,402.89 198.87,403.17 199.20,403.44 C199.53,403.72 199.87,404.00 200.20,404.27 C200.53,404.55 200.87,404.82 201.20,405.10 C201.53,405.38 201.87,405.65 202.20,405.93 C202.53,406.21 202.87,406.48 203.20,406.76 C203.53,407.04 203.87,407.32 204.20,407.59 C204.53,407.87 204.87,408.15 205.20,408.43 C205.53,408.71 205.87,408.99 206.20,409.27 C206.53,409.54 206.87,409.82 207.20,410.10 C207.53,410.38 207.87,410.66 208.20,410.94 C208.53,411.22 208.87,411.50 209.20,411.78 C209.53,412.06 209.87,412.34 210.20,412.63 C210.53,412.91 210.87,413.19 211.20,413.47 C211.53,413.75 211.87,414.03 212.20,414.31 C212.53,414.60 212.87,414.88 213.20,415.16 C213.53,415.44 213.87,415.73 214.20,416.01 C214.53,416.29 214.87,416.58 215.20,416.86 C215.53,417.14 215.87,417.43 216.20,417.71 C216.53,417.99 216.87,418.28 217.20,418.56 C217.53,418.85 217.87,419.13 218.20,419.42 C218.53,419.70 218.87,419.99 219.20,420.27 C219.53,420.56 219.87,420.84 220.20,421.13 C220.53,421.41 220.87,421.70 221.20,421.98 C221.53,422.27 221.87,422.56 222.20,422.84 C222.53,423.13 222.87,423.42 223.20,423.70 C223.53,423.99 223.87,424.28 224.20,424.57 C224.53,424.85 224.87,425.14 225.20,425.43 C225.53,425.72 225.87,426.00 226.20,426.29 C226.53,426.58 226.87,426.87 227.20,427.16 C227.53,427.45 227.87,427.74 228.20,428.02 C228.53,428.31 228.87,428.60 229.20,428.89 C229.53,429.18 229.87,429.47 230.20,429.76 C230.53,430.05 230.87,430.34 231.20,430.63 C231.53,430.92 231.87,431.21 232.20,431.50 C232.53,431.79 232.87,432.08 233.20,432.37 C233.53,432.66 233.87,432.95 234.20,433.24 C234.53,433.52 234.87,433.81 235.20,434.10 C235.53,434.39 235.87,434.68 236.20,434.97 C236.53,435.26 236.87,435.55 237.20,435.84 C237.53,436.13 237.87,436.42 238.20,436.71 C238.53,437.00 238.87,437.29 239.20,437.58 C239.53,437.87 239.87,438.15 240.20,438.44 C240.53,438.73 240.87,439.02 241.20,439.31 C241.53,439.60 241.87,439.88 242.20,440.17 C242.53,440.46 242.87,440.75 243.20,441.03 C243.53,441.32 243.87,441.61 244.20,441.90 C244.53,442.18 244.87,442.47 245.20,442.76 C245.53,443.04 245.87,443.33 246.20,443.61 C246.53,443.90 246.87,444.18 247.20,444.47 C247.53,444.75 247.87,445.04 248.20,445.32 C248.53,445.61 248.87,445.89 249.20,446.17 C249.53,446.46 249.87,446.74 250.20,447.02 C250.53,447.31 250.87,447.59 251.20,447.87 C251.53,448.15 251.87,448.43 252.20,448.71 C252.53,448.99 252.87,449.27 253.20,449.55 C253.53,449.83 253.87,450.11 254.20,450.39 C254.53,450.67 254.87,450.95 255.20,451.23 C255.53,451.50 255.87,451.78 256.20,452.06 C256.53,452.33 256.87,452.61 257.20,452.89 C257.53,453.16 257.87,453.44 258.20,453.71 C258.53,453.98 258.87,454.26 259.20,454.53 C259.53,454.80 259.87,455.07 260.20,455.35 C260.53,455.62 260.87,455.89 261.20,456.16 C261.53,456.43 261.87,456.70 262.20,456.97 C262.53,457.23 262.87,457.50 263.20,457.77 C263.53,458.04 263.87,458.30 264.20,458.57 C264.53,458.83 264.87,459.10 265.20,459.36 C265.53,459.62 265.87,459.89 266.20,460.15 C266.53,460.41 266.87,460.67 267.20,460.93 C267.53,461.19 267.87,461.45 268.20,461.71 C268.53,461.97 268.87,462.23 269.20,462.48 C269.53,462.74 269.87,463.00 270.20,463.25 C270.53,463.51 270.87,463.76 271.20,464.01 C271.53,464.27 271.87,464.52 272.20,464.77 C272.53,465.02 272.87,465.27 273.20,465.52 C273.53,465.77 273.87,466.02 274.20,466.26 C274.53,466.51 274.87,466.76 275.20,467.00 C275.53,467.25 275.87,467.49 276.20,467.73 C276.53,467.97 276.87,468.22 277.20,468.46 C277.53,468.70 277.87,468.94 278.20,469.17 C278.53,469.41 278.87,469.65 279.20,469.88 C279.53,470.12 279.87,470.35 280.20,470.59 C280.53,470.82 280.87,471.05 281.20,471.28 C281.53,471.51 281.87,471.74 282.20,471.97 C282.53,472.20 282.87,472.43 283.20,472.65 C283.53,472.88 283.87,473.10 284.20,473.33 C284.53,473.55 284.87,473.77 285.20,473.99 C285.53,474.21 285.87,474.43 286.20,474.65 C286.53,474.87 286.87,475.08 287.20,475.30 C287.53,475.51 287.87,475.73 288.20,475.94 C288.53,476.15 288.87,476.36 289.20,476.57 C289.53,476.78 289.87,476.99 290.20,477.19 C290.53,477.40 290.87,477.60 291.20,477.81 C291.53,478.01 291.87,478.21 292.20,478.41 C292.53,478.61 292.87,478.81 293.20,479.01 C293.53,479.21 293.87,479.40 294.20,479.60 C294.53,479.79 294.87,479.98 295.20,480.17 C295.53,480.36 295.87,480.55 296.20,480.74 C296.53,480.93 296.87,481.12 297.20,481.30 C297.53,481.48 297.87,481.67 298.20,481.85 C298.53,482.03 298.87,482.21 299.20,482.39 C299.53,482.56 299.87,482.74 300.20,482.91 C300.53,483.09 300.87,483.26 301.20,483.43 C301.53,483.60 301.87,483.77 302.20,483.94 C302.53,484.11 302.87,484.27 303.20,484.43 C303.53,484.60 303.87,484.76 304.20,484.92 C304.53,485.08 304.87,485.24 305.20,485.39 C305.53,485.55 305.87,485.70 306.20,485.86 C306.53,486.01 306.87,486.16 307.20,486.31 C307.53,486.46 307.87,486.60 308.20,486.75 C308.53,486.89 308.87,487.04 309.20,487.18 C309.53,487.32 309.87,487.46 310.20,487.59 C310.53,487.73 310.87,487.87 311.20,488.00 C311.53,488.13 311.87,488.26 312.20,488.39 C312.53,488.52 312.87,488.65 313.20,488.77 C313.53,488.90 313.97,489.05 314.20,489.14 C314.43,489.22 314.53,489.26 314.60,489.28" fill="none" stroke="#3c3c3c" stroke-width="1.6" stroke-linejoin="round" stroke-linecap="round"/>
<path d="M47.20,345.73 L48.00,343.74 L48.80,342.08 L49.60,340.69 L50.40,339.54 L51.20,338.59 L52.00,337.80 L52.80,337.12 L53.60,336.51 L54.40,335.95 L55.20,335.42 L56.00,334.92 L56.80,334.45 L57.60,334.02 L58.40,333.61 L59.20,333.23 L60.00,332.88 L60.80,332.55 L61.60,332.25 L62.40,331.98 L63.20,331.73 L64.00,331.50 L64.80,331.30 L65.60,331.12 L66.40,330.96 L67.20,330.83 L68.00,330.71 L68.80,330.61 L69.60,330.53 L70.40,330.46 L71.20,330.42 L72.00,330.39 L72.80,330.37 L73.60,330.37 L74.40,330.38 L75.20,330.40 L76.00,330.44 L76.80,330.49 L77.60,330.55 L78.40,330.62 L79.20,330.71 L80.00,330.81 L80.80,330.93 L81.60,331.06 L82.40,331.20 L83.20,331.36 L84.00,331.54 L84.80,331.73 L85.60,331.93 L86.40,332.15 L87.20,332.39 L88.00,332.64 L88.80,332.91 L89.60,333.19 L90.40,333.49 L91.20,333.81 L92.00,334.15 L92.80,334.50 L93.60,334.87 L94.40,335.26 L95.20,335.66 L96.00,336.09 L96.80,336.53 L97.60,336.99 L98.40,337.45 L99.20,337.90 L100.00,338.33 L100.80,338.73 L101.60,339.07 L102.40,339.36 L103.20,339.56 L104.00,339.68 L104.80,339.72 L105.60,339.73 L106.40,339.75 L107.20,339.80 L108.00,339.94 L108.80,340.15 L109.60,340.42 L110.40,340.74 L111.20,341.08 L112.00,341.43 L112.80,341.79 L113.60,342.12 L114.40,342.42 L115.20,342.67 L116.00,342.89 L116.80,343.12 L117.60,343.39 L118.40,343.72 L119.20,344.11 L120.00,344.51 L120.80,344.92 L121.60,345.31 L122.40,345.65 L123.20,345.92 L124.00,346.09 L124.80,346.17 L125.60,346.19 L126.40,346.26 L127.20,346.45 L128.00,346.80 L128.80,347.25 L129.60,347.76 L130.40,348.25 L131.20,348.74 L132.00,349.27 L132.80,349.89 L133.60,350.66 L134.40,351.58 L135.20,352.56 L136.00,353.45 L136.80,354.16 L137.60,354.72 L138.40,355.15 L139.20,355.50 L140.00,355.79 L140.80,356.06 L141.60,356.35 L142.40,356.69 L143.20,357.10 L144.00,357.57 L144.80,358.08 L145.60,358.62 L146.40,359.16 L147.20,359.71 L148.00,360.26 L148.80,360.80 L149.60,361.35 L150.40,361.90 L151.20,362.45 L152.00,363.00 L152.80,363.56 L153.60,364.11 L154.40,364.67 L155.20,365.23 L156.00,365.79 L156.80,366.36 L157.60,366.93 L158.40,367.50 L159.20,368.08 L160.00,368.66 L160.80,369.24 L161.60,369.83 L162.40,370.43 L163.20,371.03 L164.00,371.63 L164.80,372.24 L165.60,372.85 L166.40,373.48 L167.20,374.10 L168.00,374.74 L168.80,375.38 L169.60,376.03 L170.40,376.68 L171.20,377.34 L172.00,378.02 L172.80,378.69 L173.60,379.38 L174.40,380.08 L175.20,380.78 L176.00,381.49 L176.80,382.22 L177.60,382.95 L178.40,383.69 L179.20,384.44 L180.00,385.21 L180.80,385.97 L181.60,386.75 L182.40,387.52 L183.20,388.30 L184.00,389.06 L184.80,389.83 L185.60,390.58 L186.40,391.32 L187.20,392.05 L188.00,392.76 L188.80,393.47 L189.60,394.16 L190.40,394.85 L191.20,395.53 L192.00,396.20 L192.80,396.87 L193.60,397.53 L194.40,398.18 L195.20,398.83 L196.00,399.48 L196.80,400.11 L197.60,400.74 L198.40,401.35 L199.20,401.96 L200.00,402.55 L200.80,403.14 L201.60,403.72 L202.40,404.29 L203.20,404.85 L204.00,405.40 L204.80,405.95 L205.60,406.50 L206.40,407.04 L207.20,407.58 L208.00,408.12 L208.80,408.65 L209.60,409.18 L210.40,409.72 L211.20,410.25 L212.00,410.79 L212.80,411.33 L213.60,411.87 L214.40,412.41 L215.20,412.96 L216.00,413.52 L216.80,414.08 L217.60,414.65 L218.40,415.24 L219.20,415.89 L220.00,416.61 L220.80,417.42 L221.60,418.35 L222.40,419.41 L223.20,420.64 L224.00,422.01 L224.80,423.39 L225.60,424.69 L226.40,425.76 L227.20,426.56 L228.00,427.14 L228.80,427.55 L229.60,427.84 L230.40,428.07 L231.20,428.28 L232.00,428.54 L232.80,428.88 L233.60,429.28 L234.40,429.74 L235.20,430.26 L236.00,430.83 L236.80,431.44 L237.60,432.10 L238.40,432.78 L239.20,433.50 L240.00,434.24 L240.80,434.99 L241.60,435.76 L242.40,436.53 L243.20,437.30 L244.00,438.06 L244.80,438.81 L245.60,439.54 L246.40,440.25 L247.20,440.93 L248.00,441.57 L248.80,442.17 L249.60,442.72 L250.40,443.22 L251.20,443.68 L252.00,444.14 L252.80,444.61 L253.60,445.13 L254.40,445.73 L255.20,446.45 L256.00,447.28 L256.80,448.21 L257.60,449.19 L258.40,450.19 L259.20,451.16 L260.00,452.09 L260.80,452.94 L261.60,453.72 L262.40,454.44 L263.20,455.10 L264.00,455.73 L264.80,456.32 L265.60,456.88 L266.40,457.43 L267.20,457.97 L268.00,458.52 L268.80,459.07 L269.60,459.64 L270.40,460.25 L271.20,460.88 L272.00,461.55 L272.80,462.24 L273.60,462.96 L274.40,463.70 L275.20,464.45 L276.00,465.21 L276.80,465.98 L277.60,466.75 L278.40,467.52 L279.20,468.28 L280.00,469.03 L280.80,469.77 L281.60,470.49 L282.40,471.18 L283.20,471.86 L284.00,472.50 L284.80,473.13 L285.60,473.73 L286.40,474.31 L287.20,474.88 L288.00,475.42 L288.80,475.95 L289.60,476.45 L290.40,476.95 L291.20,477.42 L292.00,477.89 L292.80,478.34 L293.60,478.77 L294.40,479.20 L295.20,479.61 L296.00,480.02 L296.80,480.41 L297.60,480.80 L298.40,481.18 L299.20,481.55 L300.00,481.92 L300.80,482.29 L301.60,482.65 L302.40,483.01 L303.20,483.37 L304.00,483.73 L304.80,484.09 L305.60,484.45 L306.40,484.81 L307.20,485.17 L308.00,485.54 L308.80,485.92 L309.60,486.30 L310.40,486.68 L311.20,487.08 L312.00,487.48 L312.80,487.90 L313.60,488.32 L314.40,488.76 L314.60,488.87" fill="none" stroke="#ee2b2b" stroke-width="1.7" stroke-linejoin="round" stroke-linecap="round"/>
<rect x="136.70" y="347.70" width="22.20" height="31.70" fill="none" stroke="#e8141c" stroke-width="1.3"/>
<line x1="142.70" y1="379.40" x2="137.66" y2="401.72" stroke="#e8141c" stroke-width="1.15"/>
<path d="M136.60,406.40 L135.22,401.17 L140.10,402.27 Z" fill="#e8141c"/>
<rect x="61.40" y="407.00" width="115.20" height="92.40" fill="#fff"/>
<line x1="83.00" y1="407.00" x2="83.00" y2="499.40" stroke="#e2e2e2" stroke-width="0.8"/>
<line x1="104.90" y1="407.00" x2="104.90" y2="499.40" stroke="#e2e2e2" stroke-width="0.8"/>
<line x1="126.80" y1="407.00" x2="126.80" y2="499.40" stroke="#e2e2e2" stroke-width="0.8"/>
<line x1="148.70" y1="407.00" x2="148.70" y2="499.40" stroke="#e2e2e2" stroke-width="0.8"/>
<line x1="170.60" y1="407.00" x2="170.60" y2="499.40" stroke="#e2e2e2" stroke-width="0.8"/>
<line x1="61.40" y1="418.00" x2="176.60" y2="418.00" stroke="#e2e2e2" stroke-width="0.8"/>
<line x1="61.40" y1="428.80" x2="176.60" y2="428.80" stroke="#e2e2e2" stroke-width="0.8"/>
<line x1="61.40" y1="439.60" x2="176.60" y2="439.60" stroke="#e2e2e2" stroke-width="0.8"/>
<line x1="61.40" y1="450.40" x2="176.60" y2="450.40" stroke="#e2e2e2" stroke-width="0.8"/>
<line x1="61.40" y1="461.20" x2="176.60" y2="461.20" stroke="#e2e2e2" stroke-width="0.8"/>
<line x1="61.40" y1="472.00" x2="176.60" y2="472.00" stroke="#e2e2e2" stroke-width="0.8"/>
<line x1="61.40" y1="482.80" x2="176.60" y2="482.80" stroke="#e2e2e2" stroke-width="0.8"/>
<line x1="61.40" y1="493.60" x2="176.60" y2="493.60" stroke="#e2e2e2" stroke-width="0.8"/>
<path d="M63.40,427.60 L70.00,433.60 L83.00,440.40 L89.00,444.40 L95.60,445.60 L102.00,451.40 L108.00,452.80 L114.40,458.40 L121.00,459.60 L127.60,466.00 L134.00,466.40 L140.00,474.00 L147.00,476.00 L153.00,480.40 L159.60,483.00 L166.00,488.00 L172.00,491.40" fill="none" stroke="#585858" stroke-width="1.1" stroke-linejoin="round"/>
<path d="M63.40,417.00 L70.00,425.40 L76.00,425.40 L83.00,429.00 L95.00,434.40 L102.00,439.40 L108.40,439.40 L115.00,448.00 L127.00,448.00 L134.00,447.40 L147.00,455.00 L153.00,464.40 L159.60,471.00 L166.00,471.00 L172.00,474.40" fill="none" stroke="#f05a5a" stroke-width="1.1" stroke-linejoin="round"/>
<path d="M72.05,407.00 v1.3 M72.05,499.40 v-1.3 M83.00,407.00 v1.3 M83.00,499.40 v-1.3 M93.95,407.00 v1.3 M93.95,499.40 v-1.3 M104.90,407.00 v1.3 M104.90,499.40 v-1.3 M115.85,407.00 v1.3 M115.85,499.40 v-1.3 M126.80,407.00 v1.3 M126.80,499.40 v-1.3 M137.75,407.00 v1.3 M137.75,499.40 v-1.3 M148.70,407.00 v1.3 M148.70,499.40 v-1.3 M159.65,407.00 v1.3 M159.65,499.40 v-1.3 M170.60,407.00 v1.3 M170.60,499.40 v-1.3 M61.40,412.60 h1.3 M176.60,412.60 h-1.3 M61.40,418.00 h1.3 M176.60,418.00 h-1.3 M61.40,423.40 h1.3 M176.60,423.40 h-1.3 M61.40,428.80 h1.3 M176.60,428.80 h-1.3 M61.40,434.20 h1.3 M176.60,434.20 h-1.3 M61.40,439.60 h1.3 M176.60,439.60 h-1.3 M61.40,445.00 h1.3 M176.60,445.00 h-1.3 M61.40,450.40 h1.3 M176.60,450.40 h-1.3 M61.40,455.80 h1.3 M176.60,455.80 h-1.3 M61.40,461.20 h1.3 M176.60,461.20 h-1.3 M61.40,466.60 h1.3 M176.60,466.60 h-1.3 M61.40,472.00 h1.3 M176.60,472.00 h-1.3 M61.40,477.40 h1.3 M176.60,477.40 h-1.3 M61.40,482.80 h1.3 M176.60,482.80 h-1.3 M61.40,488.20 h1.3 M176.60,488.20 h-1.3 M61.40,493.60 h1.3 M176.60,493.60 h-1.3" stroke="#777" stroke-width="0.7" fill="none"/>
<rect x="61.40" y="407.00" width="115.20" height="92.40" fill="none" stroke="#8e8e8e" stroke-width="1.2"/>
<rect x="171.00" y="302.50" width="138.50" height="24.10" fill="#fff" stroke="#bdbdbd" stroke-width="1"/>
<line x1="171.60" y1="309.10" x2="193.30" y2="309.10" stroke="#3c3c3c" stroke-width="1.6"/>
<line x1="171.60" y1="320.80" x2="193.30" y2="320.80" stroke="#ee2b2b" stroke-width="1.6"/>
<text x="195.20" y="312.00" font-size="9.3" fill="#222">Micro-Textured Inner Liner</text>
<text x="195.20" y="323.70" font-size="9.3" fill="#222">Micro-Textured Femoral Head</text>
<rect x="47.30" y="297.90" width="267.70" height="216.40" fill="none" stroke="#3a3a3a" stroke-width="1.4"/>
<path d="M47.30,514.30 v4.2 M91.92,514.30 v4.2 M136.53,514.30 v4.2 M181.15,514.30 v4.2 M225.77,514.30 v4.2 M270.38,514.30 v4.2 M315.00,514.30 v4.2 M69.61,514.30 v2.2 M114.22,514.30 v2.2 M158.84,514.30 v2.2 M203.46,514.30 v2.2 M248.07,514.30 v2.2 M292.69,514.30 v2.2 M47.30,490.26 h-4.4 M47.30,442.17 h-4.4 M47.30,394.08 h-4.4 M47.30,345.99 h-4.4 M47.30,297.90 h-4.4 M47.30,466.21 h-2.2 M47.30,418.12 h-2.2 M47.30,370.03 h-2.2 M47.30,321.94 h-2.2 M47.30,514.30 h-2.2" stroke="#3a3a3a" stroke-width="1.1" fill="none"/>
<text x="47.30" y="528.60" font-size="9.0" text-anchor="middle" fill="#222">0</text>
<text x="91.92" y="528.60" font-size="9.0" text-anchor="middle" fill="#222">30</text>
<text x="136.53" y="528.60" font-size="9.0" text-anchor="middle" fill="#222">60</text>
<text x="181.15" y="528.60" font-size="9.0" text-anchor="middle" fill="#222">90</text>
<text x="225.77" y="528.60" font-size="9.0" text-anchor="middle" fill="#222">120</text>
<text x="270.38" y="528.60" font-size="9.0" text-anchor="middle" fill="#222">150</text>
<text x="315.00" y="528.60" font-size="9.0" text-anchor="middle" fill="#222">180</text>
<text x="40.10" y="300.94" font-size="9.0" text-anchor="end" fill="#222">5000</text>
<text x="40.10" y="349.03" font-size="9.0" text-anchor="end" fill="#222">0</text>
<text x="40.10" y="397.12" font-size="9.0" text-anchor="end" fill="#222">-5000</text>
<text x="40.10" y="445.21" font-size="9.0" text-anchor="end" fill="#222">-10000</text>
<text x="40.10" y="493.30" font-size="9.0" text-anchor="end" fill="#222">-15000</text>
<text transform="translate(6.60,412.50) rotate(-90)" font-size="9.07" text-anchor="middle" fill="#222">Hydrodynamic Pressure (Pa)</text>
<text x="181.15" y="543.00" font-size="8.85" text-anchor="middle" fill="#222">Angle (°)</text>
<text x="160.00" y="565.10" font-size="11.6" text-anchor="middle" fill="#1a1a1a">(b)</text>
<line x1="413.50" y1="5" x2="413.50" y2="229.10" stroke="#e7e7e7" stroke-width="1" stroke-dasharray="1,1"/>
<line x1="444.50" y1="5" x2="444.50" y2="229.10" stroke="#e7e7e7" stroke-width="1" stroke-dasharray="1,1"/>
<line x1="475.50" y1="5" x2="475.50" y2="229.10" stroke="#e7e7e7" stroke-width="1" stroke-dasharray="1,1"/>
<line x1="506.50" y1="5" x2="506.50" y2="229.10" stroke="#e7e7e7" stroke-width="1" stroke-dasharray="1,1"/>
<line x1="537.50" y1="5" x2="537.50" y2="229.10" stroke="#e7e7e7" stroke-width="1" stroke-dasharray="1,1"/>
<line x1="568.50" y1="5" x2="568.50" y2="229.10" stroke="#e7e7e7" stroke-width="1" stroke-dasharray="1,1"/>
<line x1="598.50" y1="5" x2="598.50" y2="229.10" stroke="#e7e7e7" stroke-width="1" stroke-dasharray="1,1"/>
<line x1="629.50" y1="5" x2="629.50" y2="229.10" stroke="#e7e7e7" stroke-width="1" stroke-dasharray="1,1"/>
<line x1="660.50" y1="5" x2="660.50" y2="229.10" stroke="#e7e7e7" stroke-width="1" stroke-dasharray="1,1"/>
<line x1="399" y1="207.50" x2="676.60" y2="207.50" stroke="#e7e7e7" stroke-width="1" stroke-dasharray="1,1"/>
<line x1="399" y1="185.50" x2="676.60" y2="185.50" stroke="#e7e7e7" stroke-width="1" stroke-dasharray="1,1"/>
<line x1="399" y1="164.50" x2="676.60" y2="164.50" stroke="#e7e7e7" stroke-width="1" stroke-dasharray="1,1"/>
<line x1="399" y1="142.50" x2="676.60" y2="142.50" stroke="#e7e7e7" stroke-width="1" stroke-dasharray="1,1"/>
<line x1="399" y1="121.50" x2="676.60" y2="121.50" stroke="#e7e7e7" stroke-width="1" stroke-dasharray="1,1"/>
<line x1="399" y1="100.50" x2="676.60" y2="100.50" stroke="#e7e7e7" stroke-width="1" stroke-dasharray="1,1"/>
<line x1="399" y1="78.50" x2="676.60" y2="78.50" stroke="#e7e7e7" stroke-width="1" stroke-dasharray="1,1"/>
<line x1="399" y1="57.50" x2="676.60" y2="57.50" stroke="#e7e7e7" stroke-width="1" stroke-dasharray="1,1"/>
<line x1="399" y1="35.50" x2="676.60" y2="35.50" stroke="#e7e7e7" stroke-width="1" stroke-dasharray="1,1"/>
<line x1="399" y1="14.50" x2="676.60" y2="14.50" stroke="#e7e7e7" stroke-width="1" stroke-dasharray="1,1"/>
<line x1="429.76" y1="4.20" x2="429.76" y2="229.10" stroke="#d4d4d4" stroke-width="0.9"/>
<line x1="460.61" y1="4.20" x2="460.61" y2="229.10" stroke="#d4d4d4" stroke-width="0.9"/>
<line x1="491.47" y1="4.20" x2="491.47" y2="229.10" stroke="#d4d4d4" stroke-width="0.9"/>
<line x1="522.32" y1="4.20" x2="522.32" y2="229.10" stroke="#d4d4d4" stroke-width="0.9"/>
<line x1="553.18" y1="4.20" x2="553.18" y2="229.10" stroke="#d4d4d4" stroke-width="0.9"/>
<line x1="584.03" y1="4.20" x2="584.03" y2="229.10" stroke="#d4d4d4" stroke-width="0.9"/>
<line x1="614.89" y1="4.20" x2="614.89" y2="229.10" stroke="#d4d4d4" stroke-width="0.9"/>
<line x1="645.74" y1="4.20" x2="645.74" y2="229.10" stroke="#d4d4d4" stroke-width="0.9"/>
<line x1="398.90" y1="218.39" x2="676.60" y2="218.39" stroke="#d4d4d4" stroke-width="0.9"/>
<line x1="398.90" y1="196.97" x2="676.60" y2="196.97" stroke="#d4d4d4" stroke-width="0.9"/>
<line x1="398.90" y1="175.55" x2="676.60" y2="175.55" stroke="#d4d4d4" stroke-width="0.9"/>
<line x1="398.90" y1="154.13" x2="676.60" y2="154.13" stroke="#d4d4d4" stroke-width="0.9"/>
<line x1="398.90" y1="132.71" x2="676.60" y2="132.71" stroke="#d4d4d4" stroke-width="0.9"/>
<line x1="398.90" y1="111.30" x2="676.60" y2="111.30" stroke="#d4d4d4" stroke-width="0.9"/>
<line x1="398.90" y1="89.88" x2="676.60" y2="89.88" stroke="#d4d4d4" stroke-width="0.9"/>
<line x1="398.90" y1="68.46" x2="676.60" y2="68.46" stroke="#d4d4d4" stroke-width="0.9"/>
<line x1="398.90" y1="47.04" x2="676.60" y2="47.04" stroke="#d4d4d4" stroke-width="0.9"/>
<line x1="398.90" y1="25.62" x2="676.60" y2="25.62" stroke="#d4d4d4" stroke-width="0.9"/>
<path d="M398.80,46.63 C398.97,46.29 399.47,45.22 399.80,44.56 C400.13,43.89 400.47,43.26 400.80,42.64 C401.13,42.03 401.47,41.44 401.80,40.88 C402.13,40.31 402.47,39.78 402.80,39.26 C403.13,38.74 403.47,38.25 403.80,37.77 C404.13,37.30 404.47,36.85 404.80,36.42 C405.13,35.98 405.47,35.57 405.80,35.18 C406.13,34.79 406.47,34.41 406.80,34.06 C407.13,33.70 407.47,33.37 407.80,33.04 C408.13,32.72 408.47,32.42 408.80,32.13 C409.13,31.84 409.47,31.57 409.80,31.31 C410.13,31.05 410.47,30.80 410.80,30.57 C411.13,30.34 411.47,30.12 411.80,29.92 C412.13,29.71 412.47,29.52 412.80,29.34 C413.13,29.15 413.47,28.99 413.80,28.83 C414.13,28.67 414.47,28.52 414.80,28.38 C415.13,28.24 415.47,28.11 415.80,27.99 C416.13,27.87 416.47,27.76 416.80,27.66 C417.13,27.56 417.47,27.46 417.80,27.38 C418.13,27.29 418.47,27.21 418.80,27.13 C419.13,27.06 419.47,26.99 419.80,26.93 C420.13,26.87 420.47,26.81 420.80,26.76 C421.13,26.71 421.47,26.66 421.80,26.61 C422.13,26.57 422.47,26.53 422.80,26.49 C423.13,26.46 423.47,26.42 423.80,26.39 C424.13,26.36 424.47,26.34 424.80,26.32 C425.13,26.29 425.47,26.27 425.80,26.26 C426.13,26.24 426.47,26.23 426.80,26.22 C427.13,26.22 427.47,26.21 427.80,26.21 C428.13,26.21 428.47,26.21 428.80,26.22 C429.13,26.22 429.47,26.23 429.80,26.24 C430.13,26.26 430.47,26.27 430.80,26.29 C431.13,26.31 431.47,26.33 431.80,26.36 C432.13,26.38 432.47,26.41 432.80,26.44 C433.13,26.48 433.47,26.51 433.80,26.55 C434.13,26.59 434.47,26.63 434.80,26.67 C435.13,26.72 435.47,26.76 435.80,26.81 C436.13,26.86 436.47,26.92 436.80,26.97 C437.13,27.03 437.47,27.09 437.80,27.15 C438.13,27.21 438.47,27.28 438.80,27.35 C439.13,27.41 439.47,27.48 439.80,27.56 C440.13,27.63 440.47,27.71 440.80,27.79 C441.13,27.87 441.47,27.95 441.80,28.03 C442.13,28.12 442.47,28.20 442.80,28.29 C443.13,28.38 443.47,28.48 443.80,28.57 C444.13,28.67 444.47,28.76 444.80,28.86 C445.13,28.96 445.47,29.07 445.80,29.17 C446.13,29.28 446.47,29.38 446.80,29.49 C447.13,29.60 447.47,29.72 447.80,29.83 C448.13,29.95 448.47,30.06 448.80,30.18 C449.13,30.30 449.47,30.42 449.80,30.55 C450.13,30.67 450.47,30.80 450.80,30.93 C451.13,31.06 451.47,31.19 451.80,31.32 C452.13,31.45 452.47,31.59 452.80,31.72 C453.13,31.86 453.47,32.00 453.80,32.14 C454.13,32.28 454.47,32.43 454.80,32.57 C455.13,32.72 455.47,32.87 455.80,33.01 C456.13,33.16 456.47,33.32 456.80,33.47 C457.13,33.62 457.47,33.78 457.80,33.93 C458.13,34.09 458.47,34.25 458.80,34.41 C459.13,34.57 459.47,34.74 459.80,34.90 C460.13,35.07 460.47,35.23 460.80,35.40 C461.13,35.57 461.47,35.74 461.80,35.91 C462.13,36.09 462.47,36.26 462.80,36.44 C463.13,36.61 463.47,36.79 463.80,36.97 C464.13,37.15 464.47,37.33 464.80,37.52 C465.13,37.70 465.47,37.88 465.80,38.07 C466.13,38.26 466.47,38.45 466.80,38.64 C467.13,38.83 467.47,39.02 467.80,39.21 C468.13,39.40 468.47,39.60 468.80,39.80 C469.13,39.99 469.47,40.19 469.80,40.39 C470.13,40.59 470.47,40.79 470.80,41.00 C471.13,41.20 471.47,41.41 471.80,41.61 C472.13,41.82 472.47,42.03 472.80,42.24 C473.13,42.45 473.47,42.66 473.80,42.87 C474.13,43.08 474.47,43.30 474.80,43.51 C475.13,43.73 475.47,43.95 475.80,44.16 C476.13,44.38 476.47,44.60 476.80,44.82 C477.13,45.05 477.47,45.27 477.80,45.49 C478.13,45.72 478.47,45.94 478.80,46.17 C479.13,46.40 479.47,46.63 479.80,46.86 C480.13,47.09 480.47,47.32 480.80,47.55 C481.13,47.78 481.47,48.02 481.80,48.25 C482.13,48.49 482.47,48.72 482.80,48.96 C483.13,49.20 483.47,49.44 483.80,49.68 C484.13,49.92 484.47,50.16 484.80,50.40 C485.13,50.64 485.47,50.89 485.80,51.13 C486.13,51.38 486.47,51.62 486.80,51.87 C487.13,52.12 487.47,52.37 487.80,52.62 C488.13,52.87 488.47,53.12 488.80,53.37 C489.13,53.62 489.47,53.88 489.80,54.13 C490.13,54.38 490.47,54.64 490.80,54.90 C491.13,55.15 491.47,55.41 491.80,55.67 C492.13,55.93 492.47,56.19 492.80,56.45 C493.13,56.71 493.47,56.97 493.80,57.23 C494.13,57.49 494.47,57.76 494.80,58.02 C495.13,58.28 495.47,58.55 495.80,58.82 C496.13,59.08 496.47,59.35 496.80,59.62 C497.13,59.89 497.47,60.15 497.80,60.42 C498.13,60.69 498.47,60.96 498.80,61.24 C499.13,61.51 499.47,61.78 499.80,62.05 C500.13,62.33 500.47,62.60 500.80,62.87 C501.13,63.15 501.47,63.42 501.80,63.70 C502.13,63.98 502.47,64.25 502.80,64.53 C503.13,64.81 503.47,65.09 503.80,65.37 C504.13,65.65 504.47,65.93 504.80,66.21 C505.13,66.49 505.47,66.77 505.80,67.05 C506.13,67.33 506.47,67.61 506.80,67.90 C507.13,68.18 507.47,68.46 507.80,68.75 C508.13,69.03 508.47,69.32 508.80,69.60 C509.13,69.89 509.47,70.18 509.80,70.46 C510.13,70.75 510.47,71.04 510.80,71.32 C511.13,71.61 511.47,71.90 511.80,72.19 C512.13,72.48 512.47,72.77 512.80,73.06 C513.13,73.34 513.47,73.63 513.80,73.93 C514.13,74.22 514.47,74.51 514.80,74.80 C515.13,75.09 515.47,75.38 515.80,75.67 C516.13,75.97 516.47,76.26 516.80,76.55 C517.13,76.84 517.47,77.14 517.80,77.43 C518.13,77.72 518.47,78.02 518.80,78.31 C519.13,78.61 519.47,78.90 519.80,79.20 C520.13,79.49 520.47,79.78 520.80,80.08 C521.13,80.38 521.47,80.67 521.80,80.97 C522.13,81.26 522.47,81.56 522.80,81.85 C523.13,82.15 523.47,82.45 523.80,82.74 C524.13,83.04 524.47,83.34 524.80,83.63 C525.13,83.93 525.47,84.23 525.80,84.52 C526.13,84.82 526.47,85.12 526.80,85.41 C527.13,85.71 527.47,86.01 527.80,86.31 C528.13,86.60 528.47,86.90 528.80,87.20 C529.13,87.50 529.47,87.79 529.80,88.09 C530.13,88.39 530.47,88.69 530.80,88.98 C531.13,89.28 531.47,89.58 531.80,89.88 C532.13,90.18 532.47,90.47 532.80,90.77 C533.13,91.07 533.47,91.37 533.80,91.67 C534.13,91.96 534.47,92.26 534.80,92.56 C535.13,92.86 535.47,93.16 535.80,93.46 C536.13,93.76 536.47,94.05 536.80,94.35 C537.13,94.65 537.47,94.95 537.80,95.25 C538.13,95.55 538.47,95.85 538.80,96.15 C539.13,96.44 539.47,96.74 539.80,97.04 C540.13,97.34 540.47,97.64 540.80,97.94 C541.13,98.24 541.47,98.54 541.80,98.84 C542.13,99.14 542.47,99.44 542.80,99.74 C543.13,100.03 543.47,100.33 543.80,100.63 C544.13,100.93 544.47,101.23 544.80,101.53 C545.13,101.83 545.47,102.13 545.80,102.43 C546.13,102.73 546.47,103.03 546.80,103.33 C547.13,103.63 547.47,103.93 547.80,104.23 C548.13,104.53 548.47,104.83 548.80,105.13 C549.13,105.43 549.47,105.73 549.80,106.03 C550.13,106.33 550.47,106.63 550.80,106.93 C551.13,107.23 551.47,107.53 551.80,107.83 C552.13,108.13 552.47,108.43 552.80,108.73 C553.13,109.03 553.47,109.33 553.80,109.63 C554.13,109.93 554.47,110.23 554.80,110.53 C555.13,110.83 555.47,111.13 555.80,111.43 C556.13,111.73 556.47,112.03 556.80,112.33 C557.13,112.63 557.47,112.93 557.80,113.23 C558.13,113.53 558.47,113.84 558.80,114.14 C559.13,114.44 559.47,114.74 559.80,115.04 C560.13,115.34 560.47,115.64 560.80,115.94 C561.13,116.24 561.47,116.54 561.80,116.84 C562.13,117.14 562.47,117.44 562.80,117.74 C563.13,118.04 563.47,118.34 563.80,118.64 C564.13,118.94 564.47,119.24 564.80,119.54 C565.13,119.84 565.47,120.15 565.80,120.45 C566.13,120.75 566.47,121.05 566.80,121.35 C567.13,121.65 567.47,121.95 567.80,122.25 C568.13,122.55 568.47,122.85 568.80,123.15 C569.13,123.45 569.47,123.75 569.80,124.05 C570.13,124.35 570.47,124.65 570.80,124.95 C571.13,125.25 571.47,125.55 571.80,125.85 C572.13,126.16 572.47,126.46 572.80,126.76 C573.13,127.06 573.47,127.36 573.80,127.66 C574.13,127.96 574.47,128.26 574.80,128.56 C575.13,128.86 575.47,129.16 575.80,129.46 C576.13,129.76 576.47,130.06 576.80,130.36 C577.13,130.66 577.47,130.96 577.80,131.26 C578.13,131.56 578.47,131.86 578.80,132.16 C579.13,132.46 579.47,132.76 579.80,133.06 C580.13,133.36 580.47,133.66 580.80,133.96 C581.13,134.26 581.47,134.56 581.80,134.86 C582.13,135.16 582.47,135.46 582.80,135.76 C583.13,136.06 583.47,136.36 583.80,136.66 C584.13,136.96 584.47,137.26 584.80,137.56 C585.13,137.86 585.47,138.16 585.80,138.46 C586.13,138.76 586.47,139.06 586.80,139.36 C587.13,139.66 587.47,139.95 587.80,140.25 C588.13,140.55 588.47,140.85 588.80,141.15 C589.13,141.45 589.47,141.75 589.80,142.05 C590.13,142.35 590.47,142.65 590.80,142.95 C591.13,143.25 591.47,143.54 591.80,143.84 C592.13,144.14 592.47,144.44 592.80,144.74 C593.13,145.04 593.47,145.34 593.80,145.64 C594.13,145.93 594.47,146.23 594.80,146.53 C595.13,146.83 595.47,147.13 595.80,147.43 C596.13,147.73 596.47,148.02 596.80,148.32 C597.13,148.62 597.47,148.92 597.80,149.22 C598.13,149.51 598.47,149.81 598.80,150.11 C599.13,150.41 599.47,150.71 599.80,151.00 C600.13,151.30 600.47,151.60 600.80,151.90 C601.13,152.20 601.47,152.49 601.80,152.79 C602.13,153.09 602.47,153.39 602.80,153.68 C603.13,153.98 603.47,154.28 603.80,154.57 C604.13,154.87 604.47,155.17 604.80,155.47 C605.13,155.76 605.47,156.06 605.80,156.36 C606.13,156.65 606.47,156.95 606.80,157.25 C607.13,157.54 607.47,157.84 607.80,158.13 C608.13,158.43 608.47,158.73 608.80,159.02 C609.13,159.32 609.47,159.62 609.80,159.91 C610.13,160.21 610.47,160.50 610.80,160.80 C611.13,161.10 611.47,161.39 611.80,161.69 C612.13,161.98 612.47,162.28 612.80,162.57 C613.13,162.87 613.47,163.16 613.80,163.46 C614.13,163.75 614.47,164.05 614.80,164.34 C615.13,164.64 615.47,164.93 615.80,165.23 C616.13,165.52 616.47,165.82 616.80,166.11 C617.13,166.40 617.47,166.70 617.80,166.99 C618.13,167.28 618.47,167.58 618.80,167.87 C619.13,168.16 619.47,168.45 619.80,168.74 C620.13,169.04 620.47,169.33 620.80,169.62 C621.13,169.91 621.47,170.20 621.80,170.49 C622.13,170.78 622.47,171.07 622.80,171.36 C623.13,171.65 623.47,171.94 623.80,172.22 C624.13,172.51 624.47,172.80 624.80,173.09 C625.13,173.37 625.47,173.66 625.80,173.94 C626.13,174.23 626.47,174.51 626.80,174.80 C627.13,175.08 627.47,175.37 627.80,175.65 C628.13,175.93 628.47,176.21 628.80,176.49 C629.13,176.78 629.47,177.06 629.80,177.34 C630.13,177.61 630.47,177.89 630.80,178.17 C631.13,178.45 631.47,178.73 631.80,179.00 C632.13,179.28 632.47,179.55 632.80,179.83 C633.13,180.10 633.47,180.38 633.80,180.65 C634.13,180.92 634.47,181.19 634.80,181.46 C635.13,181.73 635.47,182.00 635.80,182.27 C636.13,182.54 636.47,182.80 636.80,183.07 C637.13,183.34 637.47,183.60 637.80,183.86 C638.13,184.13 638.47,184.39 638.80,184.65 C639.13,184.91 639.47,185.17 639.80,185.43 C640.13,185.69 640.47,185.95 640.80,186.21 C641.13,186.46 641.47,186.72 641.80,186.97 C642.13,187.22 642.47,187.48 642.80,187.73 C643.13,187.98 643.47,188.23 643.80,188.48 C644.13,188.73 644.47,188.97 644.80,189.22 C645.13,189.46 645.47,189.71 645.80,189.95 C646.13,190.19 646.47,190.43 646.80,190.67 C647.13,190.91 647.47,191.15 647.80,191.39 C648.13,191.62 648.47,191.86 648.80,192.09 C649.13,192.32 649.47,192.55 649.80,192.78 C650.13,193.01 650.47,193.24 650.80,193.47 C651.13,193.70 651.47,193.92 651.80,194.14 C652.13,194.37 652.47,194.59 652.80,194.81 C653.13,195.03 653.47,195.24 653.80,195.46 C654.13,195.68 654.47,195.89 654.80,196.10 C655.13,196.31 655.47,196.53 655.80,196.73 C656.13,196.94 656.47,197.15 656.80,197.35 C657.13,197.56 657.47,197.76 657.80,197.96 C658.13,198.16 658.47,198.36 658.80,198.56 C659.13,198.75 659.47,198.95 659.80,199.14 C660.13,199.33 660.47,199.52 660.80,199.71 C661.13,199.90 661.47,200.09 661.80,200.27 C662.13,200.45 662.47,200.64 662.80,200.81 C663.13,200.99 663.47,201.17 663.80,201.35 C664.13,201.52 664.47,201.69 664.80,201.87 C665.13,202.04 665.47,202.20 665.80,202.37 C666.13,202.54 666.47,202.70 666.80,202.86 C667.13,203.02 667.47,203.18 667.80,203.34 C668.13,203.49 668.47,203.65 668.80,203.80 C669.13,203.95 669.47,204.10 669.80,204.25 C670.13,204.39 670.47,204.54 670.80,204.68 C671.13,204.82 671.47,204.96 671.80,205.10 C672.13,205.23 672.47,205.37 672.80,205.50 C673.13,205.63 673.47,205.76 673.80,205.88 C674.13,206.01 674.47,206.13 674.80,206.25 C675.13,206.37 675.52,206.51 675.80,206.61 C676.08,206.71 676.38,206.81 676.50,206.84" fill="none" stroke="#3c3c3c" stroke-width="1.6" stroke-linejoin="round" stroke-linecap="round"/>
<path d="M398.80,46.99 L399.60,44.19 L400.40,42.32 L401.20,41.11 L402.00,40.32 L402.80,39.68 L403.60,39.05 L404.40,38.42 L405.20,37.79 L406.00,37.17 L406.80,36.57 L407.60,35.98 L408.40,35.41 L409.20,34.87 L410.00,34.36 L410.80,33.88 L411.60,33.43 L412.40,33.01 L413.20,32.61 L414.00,32.25 L414.80,31.91 L415.60,31.59 L416.40,31.31 L417.20,31.05 L418.00,30.82 L418.80,30.61 L419.60,30.42 L420.40,30.26 L421.20,30.12 L422.00,30.01 L422.80,29.92 L423.60,29.85 L424.40,29.80 L425.20,29.78 L426.00,29.77 L426.80,29.78 L427.60,29.82 L428.40,29.87 L429.20,29.94 L430.00,30.03 L430.80,30.14 L431.60,30.27 L432.40,30.41 L433.20,30.57 L434.00,30.74 L434.80,30.93 L435.60,31.13 L436.40,31.35 L437.20,31.58 L438.00,31.83 L438.80,32.08 L439.60,32.36 L440.40,32.64 L441.20,32.93 L442.00,33.23 L442.80,33.54 L443.60,33.86 L444.40,34.18 L445.20,34.51 L446.00,34.84 L446.80,35.18 L447.60,35.52 L448.40,35.85 L449.20,36.20 L450.00,36.54 L450.80,36.87 L451.60,37.21 L452.40,37.54 L453.20,37.87 L454.00,38.19 L454.80,38.50 L455.60,38.81 L456.40,39.11 L457.20,39.40 L458.00,39.68 L458.80,39.95 L459.60,40.20 L460.40,40.44 L461.20,40.67 L462.00,40.88 L462.80,41.09 L463.60,41.30 L464.40,41.53 L465.20,41.77 L466.00,42.04 L466.80,42.35 L467.60,42.71 L468.40,43.12 L469.20,43.58 L470.00,44.12 L470.80,44.72 L471.60,45.29 L472.40,45.75 L473.20,46.04 L474.00,46.19 L474.80,46.29 L475.60,46.40 L476.40,46.59 L477.20,46.93 L478.00,47.48 L478.80,48.22 L479.60,49.10 L480.40,50.09 L481.20,51.14 L482.00,52.19 L482.80,53.22 L483.60,54.17 L484.40,55.01 L485.20,55.76 L486.00,56.41 L486.80,56.98 L487.60,57.50 L488.40,57.96 L489.20,58.38 L490.00,58.77 L490.80,59.15 L491.60,59.53 L492.40,59.91 L493.20,60.32 L494.00,60.76 L494.80,61.24 L495.60,61.75 L496.40,62.28 L497.20,62.85 L498.00,63.43 L498.80,64.04 L499.60,64.67 L500.40,65.31 L501.20,65.97 L502.00,66.64 L502.80,67.32 L503.60,68.01 L504.40,68.70 L505.20,69.39 L506.00,70.08 L506.80,70.77 L507.60,71.45 L508.40,72.13 L509.20,72.79 L510.00,73.45 L510.80,74.08 L511.60,74.70 L512.40,75.30 L513.20,75.89 L514.00,76.47 L514.80,77.05 L515.60,77.65 L516.40,78.26 L517.20,78.90 L518.00,79.58 L518.80,80.30 L519.60,81.08 L520.40,81.90 L521.20,82.78 L522.00,83.69 L522.80,84.63 L523.60,85.60 L524.40,86.59 L525.20,87.60 L526.00,88.61 L526.80,89.60 L527.60,90.55 L528.40,91.42 L529.20,92.20 L530.00,92.84 L530.80,93.34 L531.60,93.65 L532.40,93.81 L533.20,94.02 L534.00,94.46 L534.80,95.32 L535.60,96.73 L536.40,98.47 L537.20,100.20 L538.00,101.55 L538.80,102.18 L539.60,102.01 L540.40,101.42 L541.20,100.90 L542.00,100.90 L542.80,101.85 L543.60,103.66 L544.40,105.85 L545.20,107.94 L546.00,109.46 L546.80,110.06 L547.60,110.01 L548.40,109.71 L549.20,109.58 L550.00,110.00 L550.80,111.07 L551.60,112.47 L552.40,113.83 L553.20,114.78 L554.00,115.02 L554.80,114.77 L555.60,114.51 L556.40,114.71 L557.20,115.70 L558.00,117.21 L558.80,118.81 L559.60,120.06 L560.40,120.72 L561.20,120.99 L562.00,121.19 L562.80,121.62 L563.60,122.56 L564.40,124.01 L565.20,125.69 L566.00,127.29 L566.80,128.51 L567.60,129.10 L568.40,129.19 L569.20,129.00 L570.00,128.78 L570.80,128.78 L571.60,129.12 L572.40,129.73 L573.20,130.52 L574.00,131.41 L574.80,132.29 L575.60,133.07 L576.40,133.69 L577.20,134.22 L578.00,134.72 L578.80,135.25 L579.60,135.90 L580.40,136.72 L581.20,137.76 L582.00,138.96 L582.80,140.22 L583.60,141.46 L584.40,142.58 L585.20,143.55 L586.00,144.37 L586.80,145.07 L587.60,145.67 L588.40,146.19 L589.20,146.65 L590.00,147.08 L590.80,147.50 L591.60,147.92 L592.40,148.37 L593.20,148.87 L594.00,149.45 L594.80,150.11 L595.60,150.84 L596.40,151.64 L597.20,152.48 L598.00,153.34 L598.80,154.22 L599.60,155.08 L600.40,155.92 L601.20,156.72 L602.00,157.46 L602.80,158.13 L603.60,158.75 L604.40,159.31 L605.20,159.83 L606.00,160.31 L606.80,160.76 L607.60,161.20 L608.40,161.62 L609.20,162.04 L610.00,162.46 L610.80,162.89 L611.60,163.34 L612.40,163.82 L613.20,164.33 L614.00,164.88 L614.80,165.49 L615.60,166.15 L616.40,166.87 L617.20,167.67 L618.00,168.53 L618.80,169.44 L619.60,170.40 L620.40,171.37 L621.20,172.36 L622.00,173.36 L622.80,174.34 L623.60,175.30 L624.40,176.23 L625.20,177.11 L626.00,177.93 L626.80,178.68 L627.60,179.35 L628.40,179.93 L629.20,180.42 L630.00,180.86 L630.80,181.25 L631.60,181.60 L632.40,181.93 L633.20,182.26 L634.00,182.60 L634.80,182.96 L635.60,183.36 L636.40,183.81 L637.20,184.33 L638.00,184.94 L638.80,185.64 L639.60,186.45 L640.40,187.39 L641.20,188.41 L642.00,189.49 L642.80,190.57 L643.60,191.61 L644.40,192.55 L645.20,193.36 L646.00,193.99 L646.80,194.40 L647.60,194.65 L648.40,194.80 L649.20,194.91 L650.00,195.04 L650.80,195.23 L651.60,195.48 L652.40,195.78 L653.20,196.14 L654.00,196.54 L654.80,196.99 L655.60,197.47 L656.40,197.99 L657.20,198.54 L658.00,199.12 L658.80,199.72 L659.60,200.33 L660.40,200.97 L661.20,201.61 L662.00,202.27 L662.80,202.92 L663.60,203.57 L664.40,204.21 L665.20,204.84 L666.00,205.45 L666.80,206.04 L667.60,206.60 L668.40,207.12 L669.20,207.61 L670.00,208.06 L670.80,208.46 L671.60,208.80 L672.40,209.09 L673.20,209.31 L674.00,209.47 L674.80,209.55 L675.60,209.56 L676.40,209.49 L676.50,209.47" fill="none" stroke="#ee2b2b" stroke-width="1.7" stroke-linejoin="round" stroke-linecap="round"/>
<rect x="461.50" y="31.50" width="29.40" height="35.80" fill="none" stroke="#e8141c" stroke-width="1.3"/>
<line x1="470.80" y1="67.30" x2="468.65" y2="108.01" stroke="#e8141c" stroke-width="1.15"/>
<path d="M468.40,112.80 L466.16,107.87 L471.15,108.14 Z" fill="#e8141c"/>
<rect x="412.10" y="113.50" width="126.30" height="101.10" fill="#fff"/>
<line x1="442.40" y1="113.50" x2="442.40" y2="214.60" stroke="#e2e2e2" stroke-width="0.8"/>
<line x1="472.30" y1="113.50" x2="472.30" y2="214.60" stroke="#e2e2e2" stroke-width="0.8"/>
<line x1="502.20" y1="113.50" x2="502.20" y2="214.60" stroke="#e2e2e2" stroke-width="0.8"/>
<line x1="532.10" y1="113.50" x2="532.10" y2="214.60" stroke="#e2e2e2" stroke-width="0.8"/>
<line x1="412.10" y1="131.60" x2="538.40" y2="131.60" stroke="#e2e2e2" stroke-width="0.8"/>
<line x1="412.10" y1="150.05" x2="538.40" y2="150.05" stroke="#e2e2e2" stroke-width="0.8"/>
<line x1="412.10" y1="168.50" x2="538.40" y2="168.50" stroke="#e2e2e2" stroke-width="0.8"/>
<line x1="412.10" y1="186.95" x2="538.40" y2="186.95" stroke="#e2e2e2" stroke-width="0.8"/>
<line x1="412.10" y1="205.40" x2="538.40" y2="205.40" stroke="#e2e2e2" stroke-width="0.8"/>
<path d="M414.00,127.60 L418.00,130.40 L424.00,133.00 L431.00,136.00 L435.40,140.40 L441.60,140.60 L446.00,145.00 L453.00,149.40 L459.00,153.00 L465.00,157.00 L471.00,161.60 L477.00,165.60 L483.00,169.00 L487.00,171.00 L491.00,174.60 L494.00,175.60 L498.00,180.00 L504.00,180.40 L508.60,184.60 L513.00,185.40 L516.00,189.00 L522.00,190.00 L526.00,194.60 L533.00,195.40" fill="none" stroke="#585858" stroke-width="1.1" stroke-linejoin="round"/>
<path d="M414.00,143.00 L418.00,147.00 L421.00,147.40 L425.00,151.40 L429.00,151.00 L435.00,150.60 L442.00,153.60 L446.00,154.00 L450.00,156.60 L453.00,157.00 L456.00,164.00 L462.00,164.60 L467.00,166.00 L471.00,166.60 L474.00,168.00 L478.00,168.60 L482.00,172.00 L487.00,177.00 L491.00,180.60 L495.00,185.00 L498.00,193.00 L502.00,193.40 L506.00,196.00 L509.00,199.40 L513.00,203.00 L519.00,202.00 L523.00,208.00 L527.00,209.00 L533.00,209.00" fill="none" stroke="#f05a5a" stroke-width="1.1" stroke-linejoin="round"/>
<path d="M427.45,113.50 v1.3 M427.45,214.60 v-1.3 M442.40,113.50 v1.3 M442.40,214.60 v-1.3 M457.35,113.50 v1.3 M457.35,214.60 v-1.3 M472.30,113.50 v1.3 M472.30,214.60 v-1.3 M487.25,113.50 v1.3 M487.25,214.60 v-1.3 M502.20,113.50 v1.3 M502.20,214.60 v-1.3 M517.15,113.50 v1.3 M517.15,214.60 v-1.3 M532.10,113.50 v1.3 M532.10,214.60 v-1.3 M412.10,122.38 h1.3 M538.40,122.38 h-1.3 M412.10,131.60 h1.3 M538.40,131.60 h-1.3 M412.10,140.82 h1.3 M538.40,140.82 h-1.3 M412.10,150.05 h1.3 M538.40,150.05 h-1.3 M412.10,159.27 h1.3 M538.40,159.27 h-1.3 M412.10,168.50 h1.3 M538.40,168.50 h-1.3 M412.10,177.72 h1.3 M538.40,177.72 h-1.3 M412.10,186.95 h1.3 M538.40,186.95 h-1.3 M412.10,196.17 h1.3 M538.40,196.17 h-1.3 M412.10,205.40 h1.3 M538.40,205.40 h-1.3" stroke="#777" stroke-width="0.7" fill="none"/>
<rect x="412.10" y="113.50" width="126.30" height="101.10" fill="none" stroke="#8e8e8e" stroke-width="1.2"/>
<rect x="538.50" y="10.70" width="133.00" height="24.90" fill="#fff" stroke="#bdbdbd" stroke-width="1"/>
<line x1="539.20" y1="17.30" x2="561.60" y2="17.30" stroke="#3c3c3c" stroke-width="1.6"/>
<line x1="539.20" y1="29.40" x2="561.60" y2="29.40" stroke="#ee2b2b" stroke-width="1.6"/>
<text x="563.30" y="20.60" font-size="9.55" fill="#222">Micro-Textured Inner Liner</text>
<text x="563.30" y="32.60" font-size="9.55" fill="#222">Micro-Textured Femoral</text>
<rect x="398.90" y="4.20" width="277.70" height="224.90" fill="none" stroke="#3a3a3a" stroke-width="1.4"/>
<path d="M398.90,229.10 v4.2 M429.76,229.10 v4.2 M460.61,229.10 v4.2 M491.47,229.10 v4.2 M522.32,229.10 v4.2 M553.18,229.10 v4.2 M584.03,229.10 v4.2 M614.89,229.10 v4.2 M645.74,229.10 v4.2 M676.60,229.10 v4.2 M414.33,229.10 v2.2 M445.18,229.10 v2.2 M476.04,229.10 v2.2 M506.89,229.10 v2.2 M537.75,229.10 v2.2 M568.61,229.10 v2.2 M599.46,229.10 v2.2 M630.32,229.10 v2.2 M661.17,229.10 v2.2 M398.90,218.39 h-4.4 M398.90,196.97 h-4.4 M398.90,175.55 h-4.4 M398.90,154.13 h-4.4 M398.90,132.71 h-4.4 M398.90,111.30 h-4.4 M398.90,89.88 h-4.4 M398.90,68.46 h-4.4 M398.90,47.04 h-4.4 M398.90,25.62 h-4.4 M398.90,4.20 h-4.4 M398.90,207.68 h-2.2 M398.90,186.26 h-2.2 M398.90,164.84 h-2.2 M398.90,143.42 h-2.2 M398.90,122.00 h-2.2 M398.90,100.59 h-2.2 M398.90,79.17 h-2.2 M398.90,57.75 h-2.2 M398.90,36.33 h-2.2 M398.90,14.91 h-2.2 M398.90,229.10 h-2.2" stroke="#3a3a3a" stroke-width="1.1" fill="none"/>
<text x="398.90" y="243.80" font-size="9.2" text-anchor="middle" fill="#222">0</text>
<text x="429.76" y="243.80" font-size="9.2" text-anchor="middle" fill="#222">20</text>
<text x="460.61" y="243.80" font-size="9.2" text-anchor="middle" fill="#222">40</text>
<text x="491.47" y="243.80" font-size="9.2" text-anchor="middle" fill="#222">60</text>
<text x="522.32" y="243.80" font-size="9.2" text-anchor="middle" fill="#222">80</text>
<text x="553.18" y="243.80" font-size="9.2" text-anchor="middle" fill="#222">100</text>
<text x="584.03" y="243.80" font-size="9.2" text-anchor="middle" fill="#222">120</text>
<text x="614.89" y="243.80" font-size="9.2" text-anchor="middle" fill="#222">140</text>
<text x="645.74" y="243.80" font-size="9.2" text-anchor="middle" fill="#222">160</text>
<text x="676.60" y="243.80" font-size="9.2" text-anchor="middle" fill="#222">180</text>
<text x="391.70" y="7.31" font-size="9.2" text-anchor="end" fill="#222">4000</text>
<text x="391.70" y="28.73" font-size="9.2" text-anchor="end" fill="#222">2000</text>
<text x="391.70" y="50.15" font-size="9.2" text-anchor="end" fill="#222">0</text>
<text x="391.70" y="71.57" font-size="9.2" text-anchor="end" fill="#222">-2000</text>
<text x="391.70" y="92.99" font-size="9.2" text-anchor="end" fill="#222">-4000</text>
<text x="391.70" y="114.40" font-size="9.2" text-anchor="end" fill="#222">-6000</text>
<text x="391.70" y="135.82" font-size="9.2" text-anchor="end" fill="#222">-8000</text>
<text x="391.70" y="157.24" font-size="9.2" text-anchor="end" fill="#222">-10000</text>
<text x="391.70" y="178.66" font-size="9.2" text-anchor="end" fill="#222">-12000</text>
<text x="391.70" y="200.08" font-size="9.2" text-anchor="end" fill="#222">-14000</text>
<text x="391.70" y="221.50" font-size="9.2" text-anchor="end" fill="#222">-16000</text>
<text transform="translate(356.80,114.60) rotate(-90)" font-size="9.5" text-anchor="middle" fill="#222">Hydrodynamic Pressure (Pa)</text>
<text x="537.70" y="257.50" font-size="9.5" text-anchor="middle" fill="#222">Angle (°)</text>
<text x="515.75" y="274.20" font-size="11.4" text-anchor="middle" fill="#1a1a1a" font-weight="bold">(c)</text>
<line x1="415.50" y1="301" x2="415.50" y2="518.80" stroke="#e7e7e7" stroke-width="1" stroke-dasharray="1,1"/>
<line x1="445.50" y1="301" x2="445.50" y2="518.80" stroke="#e7e7e7" stroke-width="1" stroke-dasharray="1,1"/>
<line x1="475.50" y1="301" x2="475.50" y2="518.80" stroke="#e7e7e7" stroke-width="1" stroke-dasharray="1,1"/>
<line x1="505.50" y1="301" x2="505.50" y2="518.80" stroke="#e7e7e7" stroke-width="1" stroke-dasharray="1,1"/>
<line x1="535.50" y1="301" x2="535.50" y2="518.80" stroke="#e7e7e7" stroke-width="1" stroke-dasharray="1,1"/>
<line x1="565.50" y1="301" x2="565.50" y2="518.80" stroke="#e7e7e7" stroke-width="1" stroke-dasharray="1,1"/>
<line x1="595.50" y1="301" x2="595.50" y2="518.80" stroke="#e7e7e7" stroke-width="1" stroke-dasharray="1,1"/>
<line x1="625.50" y1="301" x2="625.50" y2="518.80" stroke="#e7e7e7" stroke-width="1" stroke-dasharray="1,1"/>
<line x1="655.50" y1="301" x2="655.50" y2="518.80" stroke="#e7e7e7" stroke-width="1" stroke-dasharray="1,1"/>
<line x1="402" y1="497.50" x2="671.30" y2="497.50" stroke="#e7e7e7" stroke-width="1" stroke-dasharray="1,1"/>
<line x1="402" y1="476.50" x2="671.30" y2="476.50" stroke="#e7e7e7" stroke-width="1" stroke-dasharray="1,1"/>
<line x1="402" y1="455.50" x2="671.30" y2="455.50" stroke="#e7e7e7" stroke-width="1" stroke-dasharray="1,1"/>
<line x1="402" y1="435.50" x2="671.30" y2="435.50" stroke="#e7e7e7" stroke-width="1" stroke-dasharray="1,1"/>
<line x1="402" y1="414.50" x2="671.30" y2="414.50" stroke="#e7e7e7" stroke-width="1" stroke-dasharray="1,1"/>
<line x1="402" y1="393.50" x2="671.30" y2="393.50" stroke="#e7e7e7" stroke-width="1" stroke-dasharray="1,1"/>
<line x1="402" y1="372.50" x2="671.30" y2="372.50" stroke="#e7e7e7" stroke-width="1" stroke-dasharray="1,1"/>
<line x1="402" y1="351.50" x2="671.30" y2="351.50" stroke="#e7e7e7" stroke-width="1" stroke-dasharray="1,1"/>
<line x1="402" y1="331.50" x2="671.30" y2="331.50" stroke="#e7e7e7" stroke-width="1" stroke-dasharray="1,1"/>
<line x1="402" y1="310.50" x2="671.30" y2="310.50" stroke="#e7e7e7" stroke-width="1" stroke-dasharray="1,1"/>
<line x1="431.48" y1="300.50" x2="431.48" y2="518.80" stroke="#d4d4d4" stroke-width="0.9"/>
<line x1="461.46" y1="300.50" x2="461.46" y2="518.80" stroke="#d4d4d4" stroke-width="0.9"/>
<line x1="491.43" y1="300.50" x2="491.43" y2="518.80" stroke="#d4d4d4" stroke-width="0.9"/>
<line x1="521.41" y1="300.50" x2="521.41" y2="518.80" stroke="#d4d4d4" stroke-width="0.9"/>
<line x1="551.39" y1="300.50" x2="551.39" y2="518.80" stroke="#d4d4d4" stroke-width="0.9"/>
<line x1="581.37" y1="300.50" x2="581.37" y2="518.80" stroke="#d4d4d4" stroke-width="0.9"/>
<line x1="611.34" y1="300.50" x2="611.34" y2="518.80" stroke="#d4d4d4" stroke-width="0.9"/>
<line x1="641.32" y1="300.50" x2="641.32" y2="518.80" stroke="#d4d4d4" stroke-width="0.9"/>
<line x1="401.50" y1="508.40" x2="671.30" y2="508.40" stroke="#d4d4d4" stroke-width="0.9"/>
<line x1="401.50" y1="487.61" x2="671.30" y2="487.61" stroke="#d4d4d4" stroke-width="0.9"/>
<line x1="401.50" y1="466.82" x2="671.30" y2="466.82" stroke="#d4d4d4" stroke-width="0.9"/>
<line x1="401.50" y1="446.03" x2="671.30" y2="446.03" stroke="#d4d4d4" stroke-width="0.9"/>
<line x1="401.50" y1="425.24" x2="671.30" y2="425.24" stroke="#d4d4d4" stroke-width="0.9"/>
<line x1="401.50" y1="404.45" x2="671.30" y2="404.45" stroke="#d4d4d4" stroke-width="0.9"/>
<line x1="401.50" y1="383.66" x2="671.30" y2="383.66" stroke="#d4d4d4" stroke-width="0.9"/>
<line x1="401.50" y1="362.87" x2="671.30" y2="362.87" stroke="#d4d4d4" stroke-width="0.9"/>
<line x1="401.50" y1="342.08" x2="671.30" y2="342.08" stroke="#d4d4d4" stroke-width="0.9"/>
<line x1="401.50" y1="321.29" x2="671.30" y2="321.29" stroke="#d4d4d4" stroke-width="0.9"/>
<path d="M401.50,340.52 C401.67,340.19 402.17,339.15 402.50,338.51 C402.83,337.86 403.17,337.25 403.50,336.65 C403.83,336.06 404.17,335.50 404.50,334.96 C404.83,334.42 405.17,333.90 405.50,333.41 C405.83,332.92 406.17,332.45 406.50,332.00 C406.83,331.56 407.17,331.13 407.50,330.73 C407.83,330.32 408.17,329.94 408.50,329.57 C408.83,329.21 409.17,328.87 409.50,328.54 C409.83,328.21 410.17,327.90 410.50,327.61 C410.83,327.31 411.17,327.04 411.50,326.78 C411.83,326.52 412.17,326.27 412.50,326.04 C412.83,325.81 413.17,325.59 413.50,325.38 C413.83,325.18 414.17,324.99 414.50,324.80 C414.83,324.62 415.17,324.45 415.50,324.29 C415.83,324.13 416.17,323.98 416.50,323.84 C416.83,323.69 417.17,323.56 417.50,323.43 C417.83,323.31 418.17,323.19 418.50,323.07 C418.83,322.96 419.17,322.85 419.50,322.75 C419.83,322.65 420.17,322.55 420.50,322.46 C420.83,322.37 421.17,322.28 421.50,322.20 C421.83,322.12 422.17,322.05 422.50,321.98 C422.83,321.91 423.17,321.84 423.50,321.78 C423.83,321.72 424.17,321.67 424.50,321.62 C424.83,321.57 425.17,321.53 425.50,321.49 C425.83,321.45 426.17,321.42 426.50,321.39 C426.83,321.36 427.17,321.33 427.50,321.31 C427.83,321.29 428.17,321.28 428.50,321.27 C428.83,321.26 429.17,321.25 429.50,321.25 C429.83,321.25 430.17,321.25 430.50,321.26 C430.83,321.27 431.17,321.28 431.50,321.29 C431.83,321.31 432.17,321.33 432.50,321.35 C432.83,321.37 433.17,321.40 433.50,321.43 C433.83,321.46 434.17,321.50 434.50,321.54 C434.83,321.58 435.17,321.62 435.50,321.67 C435.83,321.71 436.17,321.76 436.50,321.82 C436.83,321.87 437.17,321.93 437.50,321.99 C437.83,322.05 438.17,322.11 438.50,322.18 C438.83,322.25 439.17,322.32 439.50,322.39 C439.83,322.47 440.17,322.54 440.50,322.62 C440.83,322.70 441.17,322.79 441.50,322.87 C441.83,322.96 442.17,323.05 442.50,323.14 C442.83,323.23 443.17,323.32 443.50,323.42 C443.83,323.52 444.17,323.62 444.50,323.72 C444.83,323.82 445.17,323.92 445.50,324.03 C445.83,324.14 446.17,324.25 446.50,324.36 C446.83,324.47 447.17,324.58 447.50,324.70 C447.83,324.81 448.17,324.93 448.50,325.05 C448.83,325.17 449.17,325.29 449.50,325.42 C449.83,325.54 450.17,325.67 450.50,325.80 C450.83,325.93 451.17,326.06 451.50,326.19 C451.83,326.32 452.17,326.46 452.50,326.59 C452.83,326.73 453.17,326.87 453.50,327.01 C453.83,327.15 454.17,327.29 454.50,327.44 C454.83,327.58 455.17,327.73 455.50,327.88 C455.83,328.03 456.17,328.18 456.50,328.33 C456.83,328.48 457.17,328.64 457.50,328.79 C457.83,328.95 458.17,329.11 458.50,329.27 C458.83,329.43 459.17,329.59 459.50,329.75 C459.83,329.92 460.17,330.08 460.50,330.25 C460.83,330.42 461.17,330.58 461.50,330.76 C461.83,330.93 462.17,331.10 462.50,331.27 C462.83,331.45 463.17,331.62 463.50,331.80 C463.83,331.98 464.17,332.16 464.50,332.34 C464.83,332.52 465.17,332.70 465.50,332.88 C465.83,333.07 466.17,333.25 466.50,333.44 C466.83,333.63 467.17,333.82 467.50,334.01 C467.83,334.20 468.17,334.39 468.50,334.58 C468.83,334.78 469.17,334.97 469.50,335.17 C469.83,335.36 470.17,335.56 470.50,335.76 C470.83,335.96 471.17,336.16 471.50,336.36 C471.83,336.57 472.17,336.77 472.50,336.97 C472.83,337.18 473.17,337.38 473.50,337.59 C473.83,337.80 474.17,338.01 474.50,338.22 C474.83,338.43 475.17,338.64 475.50,338.85 C475.83,339.07 476.17,339.28 476.50,339.50 C476.83,339.71 477.17,339.93 477.50,340.15 C477.83,340.36 478.17,340.58 478.50,340.80 C478.83,341.02 479.17,341.25 479.50,341.47 C479.83,341.69 480.17,341.91 480.50,342.14 C480.83,342.36 481.17,342.59 481.50,342.82 C481.83,343.04 482.17,343.27 482.50,343.50 C482.83,343.73 483.17,343.96 483.50,344.19 C483.83,344.42 484.17,344.66 484.50,344.89 C484.83,345.12 485.17,345.36 485.50,345.59 C485.83,345.83 486.17,346.06 486.50,346.30 C486.83,346.54 487.17,346.78 487.50,347.01 C487.83,347.25 488.17,347.49 488.50,347.73 C488.83,347.97 489.17,348.22 489.50,348.46 C489.83,348.70 490.17,348.94 490.50,349.19 C490.83,349.43 491.17,349.68 491.50,349.92 C491.83,350.17 492.17,350.41 492.50,350.66 C492.83,350.91 493.17,351.15 493.50,351.40 C493.83,351.65 494.17,351.90 494.50,352.15 C494.83,352.40 495.17,352.65 495.50,352.90 C495.83,353.15 496.17,353.40 496.50,353.66 C496.83,353.91 497.17,354.16 497.50,354.41 C497.83,354.67 498.17,354.92 498.50,355.18 C498.83,355.43 499.17,355.69 499.50,355.94 C499.83,356.20 500.17,356.45 500.50,356.71 C500.83,356.97 501.17,357.22 501.50,357.48 C501.83,357.74 502.17,358.00 502.50,358.25 C502.83,358.51 503.17,358.77 503.50,359.03 C503.83,359.29 504.17,359.55 504.50,359.81 C504.83,360.07 505.17,360.33 505.50,360.59 C505.83,360.85 506.17,361.11 506.50,361.37 C506.83,361.63 507.17,361.89 507.50,362.15 C507.83,362.42 508.17,362.68 508.50,362.94 C508.83,363.20 509.17,363.47 509.50,363.73 C509.83,364.00 510.17,364.26 510.50,364.53 C510.83,364.79 511.17,365.06 511.50,365.33 C511.83,365.59 512.17,365.86 512.50,366.13 C512.83,366.40 513.17,366.67 513.50,366.94 C513.83,367.22 514.17,367.49 514.50,367.76 C514.83,368.04 515.17,368.32 515.50,368.59 C515.83,368.87 516.17,369.15 516.50,369.43 C516.83,369.71 517.17,369.99 517.50,370.28 C517.83,370.56 518.17,370.85 518.50,371.14 C518.83,371.42 519.17,371.71 519.50,372.01 C519.83,372.30 520.17,372.59 520.50,372.89 C520.83,373.18 521.17,373.48 521.50,373.78 C521.83,374.08 522.17,374.39 522.50,374.69 C522.83,375.00 523.17,375.30 523.50,375.61 C523.83,375.92 524.17,376.23 524.50,376.54 C524.83,376.85 525.17,377.17 525.50,377.48 C525.83,377.80 526.17,378.11 526.50,378.43 C526.83,378.75 527.17,379.07 527.50,379.39 C527.83,379.71 528.17,380.03 528.50,380.35 C528.83,380.67 529.17,380.99 529.50,381.32 C529.83,381.64 530.17,381.96 530.50,382.29 C530.83,382.61 531.17,382.94 531.50,383.26 C531.83,383.59 532.17,383.92 532.50,384.24 C532.83,384.57 533.17,384.89 533.50,385.22 C533.83,385.55 534.17,385.87 534.50,386.20 C534.83,386.53 535.17,386.85 535.50,387.18 C535.83,387.50 536.17,387.83 536.50,388.15 C536.83,388.48 537.17,388.81 537.50,389.13 C537.83,389.46 538.17,389.78 538.50,390.10 C538.83,390.43 539.17,390.75 539.50,391.08 C539.83,391.40 540.17,391.72 540.50,392.05 C540.83,392.37 541.17,392.69 541.50,393.02 C541.83,393.34 542.17,393.66 542.50,393.98 C542.83,394.31 543.17,394.63 543.50,394.95 C543.83,395.27 544.17,395.59 544.50,395.91 C544.83,396.23 545.17,396.56 545.50,396.88 C545.83,397.20 546.17,397.52 546.50,397.84 C546.83,398.16 547.17,398.48 547.50,398.79 C547.83,399.11 548.17,399.43 548.50,399.75 C548.83,400.07 549.17,400.39 549.50,400.71 C549.83,401.02 550.17,401.34 550.50,401.66 C550.83,401.98 551.17,402.29 551.50,402.61 C551.83,402.93 552.17,403.24 552.50,403.56 C552.83,403.88 553.17,404.19 553.50,404.51 C553.83,404.82 554.17,405.14 554.50,405.45 C554.83,405.77 555.17,406.08 555.50,406.39 C555.83,406.71 556.17,407.02 556.50,407.33 C556.83,407.65 557.17,407.96 557.50,408.27 C557.83,408.58 558.17,408.90 558.50,409.21 C558.83,409.52 559.17,409.83 559.50,410.14 C559.83,410.45 560.17,410.76 560.50,411.07 C560.83,411.38 561.17,411.69 561.50,412.00 C561.83,412.31 562.17,412.62 562.50,412.93 C562.83,413.24 563.17,413.55 563.50,413.85 C563.83,414.16 564.17,414.47 564.50,414.77 C564.83,415.08 565.17,415.39 565.50,415.69 C565.83,416.00 566.17,416.31 566.50,416.61 C566.83,416.92 567.17,417.22 567.50,417.52 C567.83,417.83 568.17,418.13 568.50,418.44 C568.83,418.74 569.17,419.04 569.50,419.35 C569.83,419.65 570.17,419.95 570.50,420.25 C570.83,420.55 571.17,420.85 571.50,421.15 C571.83,421.46 572.17,421.76 572.50,422.06 C572.83,422.36 573.17,422.65 573.50,422.95 C573.83,423.25 574.17,423.55 574.50,423.85 C574.83,424.15 575.17,424.44 575.50,424.74 C575.83,425.04 576.17,425.33 576.50,425.63 C576.83,425.93 577.17,426.22 577.50,426.52 C577.83,426.81 578.17,427.11 578.50,427.40 C578.83,427.69 579.17,427.99 579.50,428.28 C579.83,428.57 580.17,428.87 580.50,429.16 C580.83,429.45 581.17,429.74 581.50,430.03 C581.83,430.32 582.17,430.61 582.50,430.90 C582.83,431.19 583.17,431.48 583.50,431.77 C583.83,432.06 584.17,432.35 584.50,432.64 C584.83,432.92 585.17,433.21 585.50,433.50 C585.83,433.78 586.17,434.07 586.50,434.36 C586.83,434.64 587.17,434.93 587.50,435.21 C587.83,435.50 588.17,435.78 588.50,436.07 C588.83,436.35 589.17,436.64 589.50,436.92 C589.83,437.21 590.17,437.49 590.50,437.77 C590.83,438.06 591.17,438.34 591.50,438.62 C591.83,438.91 592.17,439.19 592.50,439.48 C592.83,439.76 593.17,440.04 593.50,440.33 C593.83,440.61 594.17,440.90 594.50,441.18 C594.83,441.46 595.17,441.75 595.50,442.03 C595.83,442.32 596.17,442.60 596.50,442.89 C596.83,443.17 597.17,443.46 597.50,443.74 C597.83,444.03 598.17,444.31 598.50,444.60 C598.83,444.89 599.17,445.17 599.50,445.46 C599.83,445.75 600.17,446.03 600.50,446.32 C600.83,446.61 601.17,446.90 601.50,447.19 C601.83,447.48 602.17,447.77 602.50,448.06 C602.83,448.35 603.17,448.64 603.50,448.93 C603.83,449.23 604.17,449.52 604.50,449.81 C604.83,450.11 605.17,450.40 605.50,450.70 C605.83,450.99 606.17,451.29 606.50,451.59 C606.83,451.88 607.17,452.18 607.50,452.48 C607.83,452.78 608.17,453.08 608.50,453.38 C608.83,453.68 609.17,453.98 609.50,454.28 C609.83,454.58 610.17,454.88 610.50,455.18 C610.83,455.48 611.17,455.78 611.50,456.08 C611.83,456.38 612.17,456.68 612.50,456.99 C612.83,457.29 613.17,457.59 613.50,457.89 C613.83,458.19 614.17,458.50 614.50,458.80 C614.83,459.10 615.17,459.40 615.50,459.70 C615.83,460.00 616.17,460.30 616.50,460.61 C616.83,460.91 617.17,461.21 617.50,461.51 C617.83,461.81 618.17,462.11 618.50,462.41 C618.83,462.71 619.17,463.01 619.50,463.30 C619.83,463.60 620.17,463.90 620.50,464.20 C620.83,464.49 621.17,464.79 621.50,465.09 C621.83,465.38 622.17,465.68 622.50,465.97 C622.83,466.26 623.17,466.56 623.50,466.85 C623.83,467.14 624.17,467.43 624.50,467.72 C624.83,468.01 625.17,468.30 625.50,468.59 C625.83,468.87 626.17,469.16 626.50,469.44 C626.83,469.73 627.17,470.01 627.50,470.29 C627.83,470.58 628.17,470.86 628.50,471.14 C628.83,471.42 629.17,471.69 629.50,471.97 C629.83,472.25 630.17,472.52 630.50,472.80 C630.83,473.07 631.17,473.34 631.50,473.61 C631.83,473.88 632.17,474.15 632.50,474.42 C632.83,474.69 633.17,474.95 633.50,475.22 C633.83,475.48 634.17,475.75 634.50,476.01 C634.83,476.27 635.17,476.53 635.50,476.79 C635.83,477.04 636.17,477.30 636.50,477.56 C636.83,477.81 637.17,478.06 637.50,478.32 C637.83,478.57 638.17,478.82 638.50,479.07 C638.83,479.32 639.17,479.56 639.50,479.81 C639.83,480.05 640.17,480.30 640.50,480.54 C640.83,480.78 641.17,481.02 641.50,481.26 C641.83,481.49 642.17,481.73 642.50,481.97 C642.83,482.20 643.17,482.43 643.50,482.66 C643.83,482.89 644.17,483.12 644.50,483.35 C644.83,483.58 645.17,483.80 645.50,484.03 C645.83,484.25 646.17,484.47 646.50,484.69 C646.83,484.91 647.17,485.13 647.50,485.35 C647.83,485.56 648.17,485.78 648.50,485.99 C648.83,486.20 649.17,486.41 649.50,486.62 C649.83,486.83 650.17,487.03 650.50,487.24 C650.83,487.44 651.17,487.65 651.50,487.85 C651.83,488.05 652.17,488.24 652.50,488.44 C652.83,488.64 653.17,488.83 653.50,489.02 C653.83,489.22 654.17,489.41 654.50,489.59 C654.83,489.78 655.17,489.97 655.50,490.15 C655.83,490.34 656.17,490.52 656.50,490.70 C656.83,490.88 657.17,491.05 657.50,491.23 C657.83,491.40 658.17,491.58 658.50,491.75 C658.83,491.92 659.17,492.09 659.50,492.25 C659.83,492.42 660.17,492.59 660.50,492.75 C660.83,492.91 661.17,493.07 661.50,493.23 C661.83,493.38 662.17,493.54 662.50,493.69 C662.83,493.84 663.17,494.00 663.50,494.14 C663.83,494.29 664.17,494.44 664.50,494.58 C664.83,494.72 665.17,494.87 665.50,495.00 C665.83,495.14 666.17,495.28 666.50,495.41 C666.83,495.55 667.17,495.68 667.50,495.81 C667.83,495.94 668.17,496.06 668.50,496.19 C668.83,496.31 669.17,496.44 669.50,496.55 C669.83,496.67 670.20,496.80 670.50,496.91 C670.80,497.01 671.17,497.13 671.30,497.17" fill="none" stroke="#3c3c3c" stroke-width="1.6" stroke-linejoin="round" stroke-linecap="round"/>
<path d="M401.50,341.31 L402.30,338.60 L403.10,336.82 L403.90,335.68 L404.70,334.90 L405.50,334.22 L406.30,333.54 L407.10,332.88 L407.90,332.22 L408.70,331.59 L409.50,330.97 L410.30,330.38 L411.10,329.81 L411.90,329.28 L412.70,328.77 L413.50,328.29 L414.30,327.85 L415.10,327.43 L415.90,327.05 L416.70,326.70 L417.50,326.37 L418.30,326.08 L419.10,325.81 L419.90,325.58 L420.70,325.36 L421.50,325.18 L422.30,325.02 L423.10,324.89 L423.90,324.78 L424.70,324.69 L425.50,324.63 L426.30,324.59 L427.10,324.58 L427.90,324.58 L428.70,324.61 L429.50,324.66 L430.30,324.73 L431.10,324.81 L431.90,324.92 L432.70,325.05 L433.50,325.19 L434.30,325.35 L435.10,325.53 L435.90,325.72 L436.70,325.93 L437.50,326.15 L438.30,326.39 L439.10,326.64 L439.90,326.90 L440.70,327.18 L441.50,327.47 L442.30,327.76 L443.10,328.07 L443.90,328.39 L444.70,328.72 L445.50,329.05 L446.30,329.38 L447.10,329.72 L447.90,330.07 L448.70,330.41 L449.50,330.76 L450.30,331.11 L451.10,331.45 L451.90,331.80 L452.70,332.14 L453.50,332.47 L454.30,332.80 L455.10,333.12 L455.90,333.44 L456.70,333.74 L457.50,334.04 L458.30,334.32 L459.10,334.59 L459.90,334.85 L460.70,335.09 L461.50,335.32 L462.30,335.53 L463.10,335.74 L463.90,335.94 L464.70,336.14 L465.50,336.35 L466.30,336.57 L467.10,336.82 L467.90,337.09 L468.70,337.40 L469.50,337.75 L470.30,338.15 L471.10,338.60 L471.90,339.11 L472.70,339.68 L473.50,340.30 L474.30,340.97 L475.10,341.68 L475.90,342.41 L476.70,343.16 L477.50,343.91 L478.30,344.67 L479.10,345.41 L479.90,346.13 L480.70,346.77 L481.50,347.27 L482.30,347.57 L483.10,347.61 L483.90,347.44 L484.70,347.28 L485.50,347.34 L486.30,347.84 L487.10,348.96 L487.90,350.55 L488.70,352.31 L489.50,353.91 L490.30,355.04 L491.10,355.56 L491.90,355.70 L492.70,355.73 L493.50,355.89 L494.30,356.44 L495.10,357.38 L495.90,358.50 L496.70,359.62 L497.50,360.54 L498.30,361.13 L499.10,361.44 L499.90,361.58 L500.70,361.65 L501.50,361.78 L502.30,362.07 L503.10,362.62 L503.90,363.55 L504.70,364.85 L505.50,366.31 L506.30,367.68 L507.10,368.73 L507.90,369.23 L508.70,369.25 L509.50,369.07 L510.30,368.95 L511.10,369.20 L511.90,369.97 L512.70,371.01 L513.50,371.96 L514.30,372.54 L515.10,372.81 L515.90,372.94 L516.70,373.05 L517.50,373.31 L518.30,373.78 L519.10,374.43 L519.90,375.23 L520.70,376.12 L521.50,377.06 L522.30,378.03 L523.10,378.99 L523.90,379.96 L524.70,380.97 L525.50,382.04 L526.30,383.19 L527.10,384.43 L527.90,385.75 L528.70,386.96 L529.50,387.84 L530.30,388.28 L531.10,388.43 L531.90,388.51 L532.70,388.75 L533.50,389.39 L534.30,390.49 L535.10,391.92 L535.90,393.50 L536.70,395.07 L537.50,396.49 L538.30,397.58 L539.10,398.20 L539.90,398.39 L540.70,398.37 L541.50,398.40 L542.30,398.71 L543.10,399.48 L543.90,400.55 L544.70,401.60 L545.50,402.34 L546.30,402.57 L547.10,402.49 L547.90,402.45 L548.70,402.75 L549.50,403.56 L550.30,404.72 L551.10,406.03 L551.90,407.29 L552.70,408.40 L553.50,409.37 L554.30,410.20 L555.10,410.93 L555.90,411.56 L556.70,412.11 L557.50,412.61 L558.30,413.06 L559.10,413.49 L559.90,413.91 L560.70,414.35 L561.50,414.87 L562.30,415.52 L563.10,416.35 L563.90,417.40 L564.70,418.58 L565.50,419.74 L566.30,420.72 L567.10,421.37 L567.90,421.54 L568.70,421.30 L569.50,421.00 L570.30,421.02 L571.10,421.72 L571.90,423.11 L572.70,424.80 L573.50,426.41 L574.30,427.58 L575.10,428.31 L575.90,428.80 L576.70,429.23 L577.50,429.76 L578.30,430.43 L579.10,431.19 L579.90,432.04 L580.70,432.95 L581.50,433.88 L582.30,434.83 L583.10,435.76 L583.90,436.65 L584.70,437.47 L585.50,438.20 L586.30,438.83 L587.10,439.37 L587.90,439.85 L588.70,440.27 L589.50,440.67 L590.30,441.05 L591.10,441.45 L591.90,441.88 L592.70,442.36 L593.50,442.91 L594.30,443.55 L595.10,444.29 L595.90,445.12 L596.70,446.02 L597.50,446.98 L598.30,447.98 L599.10,449.02 L599.90,450.08 L600.70,451.14 L601.50,452.19 L602.30,453.21 L603.10,454.17 L603.90,455.04 L604.70,455.81 L605.50,456.49 L606.30,457.09 L607.10,457.63 L607.90,458.11 L608.70,458.55 L609.50,458.97 L610.30,459.38 L611.10,459.79 L611.90,460.21 L612.70,460.67 L613.50,461.16 L614.30,461.72 L615.10,462.34 L615.90,463.04 L616.70,463.81 L617.50,464.63 L618.30,465.50 L619.10,466.38 L619.90,467.29 L620.70,468.18 L621.50,469.07 L622.30,469.93 L623.10,470.75 L623.90,471.55 L624.70,472.31 L625.50,473.05 L626.30,473.77 L627.10,474.46 L627.90,475.13 L628.70,475.78 L629.50,476.42 L630.30,477.03 L631.10,477.64 L631.90,478.23 L632.70,478.81 L633.50,479.39 L634.30,479.96 L635.10,480.52 L635.90,481.09 L636.70,481.65 L637.50,482.21 L638.30,482.77 L639.10,483.34 L639.90,483.92 L640.70,484.51 L641.50,485.10 L642.30,485.69 L643.10,486.29 L643.90,486.90 L644.70,487.50 L645.50,488.11 L646.30,488.72 L647.10,489.32 L647.90,489.93 L648.70,490.53 L649.50,491.12 L650.30,491.72 L651.10,492.30 L651.90,492.88 L652.70,493.45 L653.50,494.00 L654.30,494.55 L655.10,495.09 L655.90,495.61 L656.70,496.12 L657.50,496.62 L658.30,497.10 L659.10,497.56 L659.90,498.00 L660.70,498.42 L661.50,498.83 L662.30,499.21 L663.10,499.57 L663.90,499.90 L664.70,500.22 L665.50,500.50 L666.30,500.76 L667.10,500.99 L667.90,501.19 L668.70,501.36 L669.50,501.51 L670.30,501.61 L671.10,501.69 L671.30,501.70" fill="none" stroke="#ee2b2b" stroke-width="1.7" stroke-linejoin="round" stroke-linecap="round"/>
<rect x="447.30" y="320.70" width="29.70" height="30.60" fill="none" stroke="#e8141c" stroke-width="1.3"/>
<line x1="456.60" y1="351.30" x2="456.60" y2="402.80" stroke="#e8141c" stroke-width="1.15"/>
<path d="M456.60,407.60 L454.10,402.80 L459.10,402.80 Z" fill="#e8141c"/>
<rect x="408.60" y="408.40" width="127.00" height="101.60" fill="#fff"/>
<line x1="439.00" y1="408.40" x2="439.00" y2="510.00" stroke="#e2e2e2" stroke-width="0.8"/>
<line x1="469.33" y1="408.40" x2="469.33" y2="510.00" stroke="#e2e2e2" stroke-width="0.8"/>
<line x1="499.66" y1="408.40" x2="499.66" y2="510.00" stroke="#e2e2e2" stroke-width="0.8"/>
<line x1="529.99" y1="408.40" x2="529.99" y2="510.00" stroke="#e2e2e2" stroke-width="0.8"/>
<line x1="408.60" y1="427.00" x2="535.60" y2="427.00" stroke="#e2e2e2" stroke-width="0.8"/>
<line x1="408.60" y1="446.75" x2="535.60" y2="446.75" stroke="#e2e2e2" stroke-width="0.8"/>
<line x1="408.60" y1="466.50" x2="535.60" y2="466.50" stroke="#e2e2e2" stroke-width="0.8"/>
<line x1="408.60" y1="486.25" x2="535.60" y2="486.25" stroke="#e2e2e2" stroke-width="0.8"/>
<line x1="408.60" y1="506.00" x2="535.60" y2="506.00" stroke="#e2e2e2" stroke-width="0.8"/>
<path d="M411.00,414.00 L414.00,414.40 L418.00,418.00 L424.00,418.40 L429.00,422.00 L433.00,422.40 L437.00,423.60 L443.00,425.60 L448.00,429.60 L454.00,432.40 L457.00,436.40 L461.00,437.60 L466.00,440.40 L470.00,441.60 L475.00,446.00 L479.00,448.00 L484.00,451.00 L488.00,453.00 L492.00,458.00 L498.00,458.60 L500.00,459.40 L504.00,464.40 L507.00,466.00 L511.00,470.40 L515.00,473.00 L520.00,477.00 L525.00,482.00 L531.00,487.00" fill="none" stroke="#585858" stroke-width="1.1" stroke-linejoin="round"/>
<path d="M411.00,436.60 L415.00,438.40 L418.00,440.40 L422.00,444.40 L428.00,444.40 L433.00,449.00 L437.00,450.00 L443.00,457.00 L449.00,457.40 L451.00,458.40 L456.00,462.40 L460.00,463.00 L464.00,462.00 L471.00,462.00 L474.00,467.00 L478.00,467.60 L482.00,473.00 L486.00,472.40 L490.00,471.60 L494.00,473.00 L499.00,476.00 L503.00,476.40 L507.00,480.00 L513.00,480.00 L516.00,486.00 L520.00,494.40 L523.00,494.40 L528.00,504.00 L531.00,504.00" fill="none" stroke="#f05a5a" stroke-width="1.1" stroke-linejoin="round"/>
<path d="M423.84,408.40 v1.3 M423.84,510.00 v-1.3 M439.00,408.40 v1.3 M439.00,510.00 v-1.3 M454.16,408.40 v1.3 M454.16,510.00 v-1.3 M469.33,408.40 v1.3 M469.33,510.00 v-1.3 M484.49,408.40 v1.3 M484.49,510.00 v-1.3 M499.66,408.40 v1.3 M499.66,510.00 v-1.3 M514.82,408.40 v1.3 M514.82,510.00 v-1.3 M529.99,408.40 v1.3 M529.99,510.00 v-1.3 M408.60,417.12 h1.3 M535.60,417.12 h-1.3 M408.60,427.00 h1.3 M535.60,427.00 h-1.3 M408.60,436.88 h1.3 M535.60,436.88 h-1.3 M408.60,446.75 h1.3 M535.60,446.75 h-1.3 M408.60,456.62 h1.3 M535.60,456.62 h-1.3 M408.60,466.50 h1.3 M535.60,466.50 h-1.3 M408.60,476.38 h1.3 M535.60,476.38 h-1.3 M408.60,486.25 h1.3 M535.60,486.25 h-1.3 M408.60,496.12 h1.3 M535.60,496.12 h-1.3 M408.60,506.00 h1.3 M535.60,506.00 h-1.3" stroke="#777" stroke-width="0.7" fill="none"/>
<rect x="408.60" y="408.40" width="127.00" height="101.60" fill="none" stroke="#8e8e8e" stroke-width="1.2"/>
<rect x="540.30" y="307.30" width="128.40" height="24.30" fill="#fff" stroke="#bdbdbd" stroke-width="1"/>
<line x1="541.00" y1="313.50" x2="562.70" y2="313.50" stroke="#3c3c3c" stroke-width="1.6"/>
<line x1="541.00" y1="325.20" x2="562.70" y2="325.20" stroke="#ee2b2b" stroke-width="1.6"/>
<text x="564.20" y="316.60" font-size="9.25" fill="#222">Micro-Textured Inner Liner</text>
<text x="564.20" y="328.10" font-size="9.25" fill="#222">Micro-Textured Femoral</text>
<rect x="401.50" y="300.50" width="269.80" height="218.30" fill="none" stroke="#3a3a3a" stroke-width="1.4"/>
<path d="M401.50,518.80 v4.2 M431.48,518.80 v4.2 M461.46,518.80 v4.2 M491.43,518.80 v4.2 M521.41,518.80 v4.2 M551.39,518.80 v4.2 M581.37,518.80 v4.2 M611.34,518.80 v4.2 M641.32,518.80 v4.2 M671.30,518.80 v4.2 M416.49,518.80 v2.2 M446.47,518.80 v2.2 M476.44,518.80 v2.2 M506.42,518.80 v2.2 M536.40,518.80 v2.2 M566.38,518.80 v2.2 M596.36,518.80 v2.2 M626.33,518.80 v2.2 M656.31,518.80 v2.2 M401.50,508.40 h-4.4 M401.50,487.61 h-4.4 M401.50,466.82 h-4.4 M401.50,446.03 h-4.4 M401.50,425.24 h-4.4 M401.50,404.45 h-4.4 M401.50,383.66 h-4.4 M401.50,362.87 h-4.4 M401.50,342.08 h-4.4 M401.50,321.29 h-4.4 M401.50,300.50 h-4.4 M401.50,498.01 h-2.2 M401.50,477.22 h-2.2 M401.50,456.43 h-2.2 M401.50,435.64 h-2.2 M401.50,414.85 h-2.2 M401.50,394.06 h-2.2 M401.50,373.27 h-2.2 M401.50,352.48 h-2.2 M401.50,331.69 h-2.2 M401.50,310.90 h-2.2 M401.50,518.80 h-2.2" stroke="#3a3a3a" stroke-width="1.1" fill="none"/>
<text x="401.50" y="533.30" font-size="9.2" text-anchor="middle" fill="#222">0</text>
<text x="431.48" y="533.30" font-size="9.2" text-anchor="middle" fill="#222">20</text>
<text x="461.46" y="533.30" font-size="9.2" text-anchor="middle" fill="#222">40</text>
<text x="491.43" y="533.30" font-size="9.2" text-anchor="middle" fill="#222">60</text>
<text x="521.41" y="533.30" font-size="9.2" text-anchor="middle" fill="#222">80</text>
<text x="551.39" y="533.30" font-size="9.2" text-anchor="middle" fill="#222">100</text>
<text x="581.37" y="533.30" font-size="9.2" text-anchor="middle" fill="#222">120</text>
<text x="611.34" y="533.30" font-size="9.2" text-anchor="middle" fill="#222">140</text>
<text x="641.32" y="533.30" font-size="9.2" text-anchor="middle" fill="#222">160</text>
<text x="671.30" y="533.30" font-size="9.2" text-anchor="middle" fill="#222">180</text>
<text x="394.10" y="303.61" font-size="9.2" text-anchor="end" fill="#222">4000</text>
<text x="394.10" y="324.40" font-size="9.2" text-anchor="end" fill="#222">2000</text>
<text x="394.10" y="345.19" font-size="9.2" text-anchor="end" fill="#222">0</text>
<text x="394.10" y="365.98" font-size="9.2" text-anchor="end" fill="#222">-2000</text>
<text x="394.10" y="386.77" font-size="9.2" text-anchor="end" fill="#222">-4000</text>
<text x="394.10" y="407.56" font-size="9.2" text-anchor="end" fill="#222">-6000</text>
<text x="394.10" y="428.35" font-size="9.2" text-anchor="end" fill="#222">-8000</text>
<text x="394.10" y="449.14" font-size="9.2" text-anchor="end" fill="#222">-10000</text>
<text x="394.10" y="469.93" font-size="9.2" text-anchor="end" fill="#222">-12000</text>
<text x="394.10" y="490.72" font-size="9.2" text-anchor="end" fill="#222">-14000</text>
<text x="394.10" y="511.51" font-size="9.2" text-anchor="end" fill="#222">-16000</text>
<text transform="translate(359.30,408.20) rotate(-90)" font-size="9.18" text-anchor="middle" fill="#222">Hydrodynamic Pressure (Pa)</text>
<text x="535.70" y="546.70" font-size="9.04" text-anchor="middle" fill="#222">Angle (°)</text>
<text x="515.60" y="565.90" font-size="11.6" text-anchor="middle" fill="#1a1a1a">(d)</text>
</svg>
</body></html>
